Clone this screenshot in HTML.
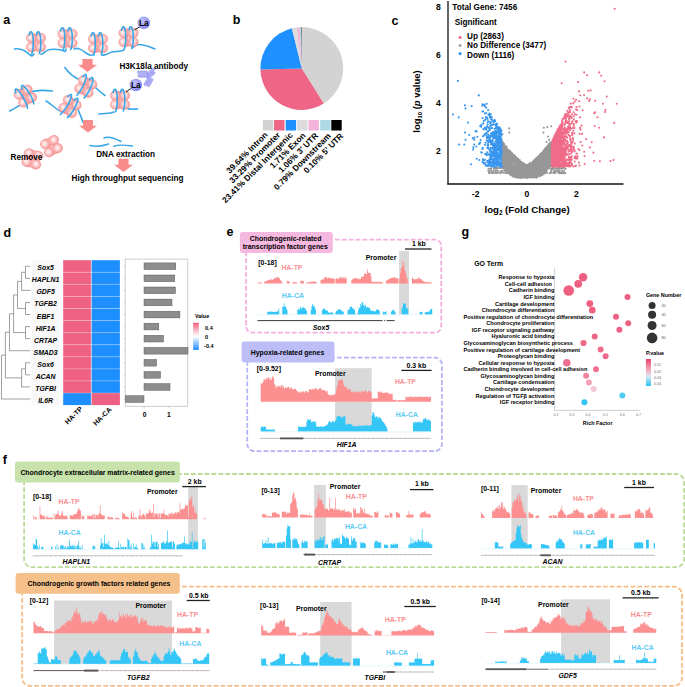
<!DOCTYPE html>
<html><head><meta charset="utf-8"><style>
html,body{margin:0;padding:0;background:#fff;}
svg{display:block;font-family:"Liberation Sans", sans-serif;}
</style></head><body>
<svg width="685" height="687" viewBox="0 0 685 687">
<rect width="685" height="687" fill="#fff"/>
<defs>
<radialGradient id="sph" cx="0.45" cy="0.45" r="0.6">
<stop offset="0" stop-color="#fff8f8"/><stop offset="0.4" stop-color="#fcd2d2"/><stop offset="0.8" stop-color="#f8a6a6"/><stop offset="1" stop-color="#f48888"/>
</radialGradient>
<radialGradient id="la" cx="0.4" cy="0.35" r="0.7">
<stop offset="0" stop-color="#c4c4fb"/><stop offset="1" stop-color="#7f7ff0"/>
</radialGradient>
<linearGradient id="hmleg" x1="0" y1="0" x2="0" y2="1">
<stop offset="0" stop-color="#ee5f80"/><stop offset="0.5" stop-color="#ffffff"/><stop offset="1" stop-color="#1e8cff"/>
</linearGradient>
<linearGradient id="pleg" x1="0" y1="0" x2="0" y2="1">
<stop offset="0" stop-color="#e9446a"/><stop offset="0.45" stop-color="#f4b6c4"/><stop offset="0.65" stop-color="#d6e6f2"/><stop offset="1" stop-color="#27c4f7"/>
</linearGradient>
</defs>
<text x="3.2" y="23.8" font-size="12.5" font-weight="bold" fill="#000">a</text>
<path d="M14.5 49 C20 48 26 51 30 55 C32 56.5 33 56 34 54" fill="none" stroke="#39a7e8" stroke-width="1.6" stroke-linecap="round"/>
<path d="M41 54 C43 55.5 45 50 50 49.5 C56 49 62 50 64 51 C65 52 66 51 66 49" fill="none" stroke="#39a7e8" stroke-width="1.6" stroke-linecap="round"/>
<path d="M74 49 C78 47 82 50 86 53 C90 56 92 56 94 54" fill="none" stroke="#39a7e8" stroke-width="1.6" stroke-linecap="round"/>
<path d="M102 55 C106 56 108 53 112 52 C116 51 120 52 124 50" fill="none" stroke="#39a7e8" stroke-width="1.6" stroke-linecap="round"/>
<path d="M132 48 C134 47 136 44 140 44.5 C146 45 151 47 155 49" fill="none" stroke="#39a7e8" stroke-width="1.6" stroke-linecap="round"/>
<g transform="translate(36,42.5) rotate(0)">
<circle cx="-2.6" cy="-4.5" r="4.465" fill="url(#sph)" stroke="#f39393" stroke-width="0.6"/>
<circle cx="2.6" cy="-4.5" r="4.465" fill="url(#sph)" stroke="#f39393" stroke-width="0.6"/>
<circle cx="-2.6" cy="4.5" r="4.465" fill="url(#sph)" stroke="#f39393" stroke-width="0.6"/>
<circle cx="2.6" cy="4.5" r="4.465" fill="url(#sph)" stroke="#f39393" stroke-width="0.6"/>
<circle cx="-5.0" cy="-4.5" r="4.7" fill="url(#sph)" stroke="#f39393" stroke-width="0.6"/>
<circle cx="5.0" cy="-4.5" r="4.7" fill="url(#sph)" stroke="#f39393" stroke-width="0.6"/>
<circle cx="-5.0" cy="4.5" r="4.7" fill="url(#sph)" stroke="#f39393" stroke-width="0.6"/>
<circle cx="5.0" cy="4.5" r="4.7" fill="url(#sph)" stroke="#f39393" stroke-width="0.6"/>
</g>
<g transform="translate(36,42.5) rotate(0)" fill="none" stroke="#39a7e8" stroke-width="1.6" stroke-linecap="round">
<path d="M-6.9 -7.6 Q-5.8 -12.2 -4.1 -10.2 C-2.3 -6 -2.2 6 -4.3 11.6"/>
<path d="M0.4 -7.6 Q1.5 -12.2 3.2 -10.2 C5.3 -6 5.4 6 3.3 11"/>
</g>
<g transform="translate(67.5,38.5) rotate(0)">
<circle cx="-2.6" cy="-4.5" r="4.465" fill="url(#sph)" stroke="#f39393" stroke-width="0.6"/>
<circle cx="2.6" cy="-4.5" r="4.465" fill="url(#sph)" stroke="#f39393" stroke-width="0.6"/>
<circle cx="-2.6" cy="4.5" r="4.465" fill="url(#sph)" stroke="#f39393" stroke-width="0.6"/>
<circle cx="2.6" cy="4.5" r="4.465" fill="url(#sph)" stroke="#f39393" stroke-width="0.6"/>
<circle cx="-5.0" cy="-4.5" r="4.7" fill="url(#sph)" stroke="#f39393" stroke-width="0.6"/>
<circle cx="5.0" cy="-4.5" r="4.7" fill="url(#sph)" stroke="#f39393" stroke-width="0.6"/>
<circle cx="-5.0" cy="4.5" r="4.7" fill="url(#sph)" stroke="#f39393" stroke-width="0.6"/>
<circle cx="5.0" cy="4.5" r="4.7" fill="url(#sph)" stroke="#f39393" stroke-width="0.6"/>
</g>
<g transform="translate(67.5,38.5) rotate(0)" fill="none" stroke="#39a7e8" stroke-width="1.6" stroke-linecap="round">
<path d="M-6.9 -7.6 Q-5.8 -12.2 -4.1 -10.2 C-2.3 -6 -2.2 6 -4.3 11.6"/>
<path d="M0.4 -7.6 Q1.5 -12.2 3.2 -10.2 C5.3 -6 5.4 6 3.3 11"/>
</g>
<g transform="translate(98,43.5) rotate(0)">
<circle cx="-2.6" cy="-4.5" r="4.465" fill="url(#sph)" stroke="#f39393" stroke-width="0.6"/>
<circle cx="2.6" cy="-4.5" r="4.465" fill="url(#sph)" stroke="#f39393" stroke-width="0.6"/>
<circle cx="-2.6" cy="4.5" r="4.465" fill="url(#sph)" stroke="#f39393" stroke-width="0.6"/>
<circle cx="2.6" cy="4.5" r="4.465" fill="url(#sph)" stroke="#f39393" stroke-width="0.6"/>
<circle cx="-5.0" cy="-4.5" r="4.7" fill="url(#sph)" stroke="#f39393" stroke-width="0.6"/>
<circle cx="5.0" cy="-4.5" r="4.7" fill="url(#sph)" stroke="#f39393" stroke-width="0.6"/>
<circle cx="-5.0" cy="4.5" r="4.7" fill="url(#sph)" stroke="#f39393" stroke-width="0.6"/>
<circle cx="5.0" cy="4.5" r="4.7" fill="url(#sph)" stroke="#f39393" stroke-width="0.6"/>
</g>
<g transform="translate(98,43.5) rotate(0)" fill="none" stroke="#39a7e8" stroke-width="1.6" stroke-linecap="round">
<path d="M-6.9 -7.6 Q-5.8 -12.2 -4.1 -10.2 C-2.3 -6 -2.2 6 -4.3 11.6"/>
<path d="M0.4 -7.6 Q1.5 -12.2 3.2 -10.2 C5.3 -6 5.4 6 3.3 11"/>
</g>
<g transform="translate(128.5,37.5) rotate(0)">
<circle cx="-2.6" cy="-4.5" r="4.465" fill="url(#sph)" stroke="#f39393" stroke-width="0.6"/>
<circle cx="2.6" cy="-4.5" r="4.465" fill="url(#sph)" stroke="#f39393" stroke-width="0.6"/>
<circle cx="-2.6" cy="4.5" r="4.465" fill="url(#sph)" stroke="#f39393" stroke-width="0.6"/>
<circle cx="2.6" cy="4.5" r="4.465" fill="url(#sph)" stroke="#f39393" stroke-width="0.6"/>
<circle cx="-5.0" cy="-4.5" r="4.7" fill="url(#sph)" stroke="#f39393" stroke-width="0.6"/>
<circle cx="5.0" cy="-4.5" r="4.7" fill="url(#sph)" stroke="#f39393" stroke-width="0.6"/>
<circle cx="-5.0" cy="4.5" r="4.7" fill="url(#sph)" stroke="#f39393" stroke-width="0.6"/>
<circle cx="5.0" cy="4.5" r="4.7" fill="url(#sph)" stroke="#f39393" stroke-width="0.6"/>
</g>
<g transform="translate(128.5,37.5) rotate(0)" fill="none" stroke="#39a7e8" stroke-width="1.6" stroke-linecap="round">
<path d="M-6.9 -7.6 Q-5.8 -12.2 -4.1 -10.2 C-2.3 -6 -2.2 6 -4.3 11.6"/>
<path d="M0.4 -7.6 Q1.5 -12.2 3.2 -10.2 C5.3 -6 5.4 6 3.3 11"/>
</g>
<line x1="134.5" y1="30.0" x2="140.0" y2="26.5" stroke="#111" stroke-width="1.0"/>
<circle cx="143.8" cy="22.8" r="6.2" fill="url(#la)"/>
<text x="143.8" y="25.8" font-size="8.4" font-weight="bold" text-anchor="middle" fill="#000">La</text>
<path d="M82.4 59.0H92.6V64.8H97.0L87.5 72.0L78.0 64.8H82.4Z" fill="#f98b8b"/>
<text x="119.4" y="69.0" font-size="8.2" font-weight="bold" fill="#000">H3K18la antibody</text>
<g fill="#a9a9f6" fill-opacity="0.9" stroke="#7f7fe6" stroke-width="0.5"><rect x="137.5" y="71" width="10" height="2.6" rx="1.2"/><rect x="138" y="74.6" width="10" height="2.6" rx="1.2"/><rect x="146" y="71" width="9.5" height="2.6" rx="1.2" transform="rotate(-40 150 72)"/><rect x="146.5" y="74.8" width="9.5" height="2.6" rx="1.2" transform="rotate(-40 150 76)"/><rect x="142" y="80" width="9" height="2.6" rx="1.2" transform="rotate(-60 147 81)"/><rect x="145" y="81" width="9" height="2.6" rx="1.2" transform="rotate(-60 150 82)"/></g>
<path d="M9.6 111 C14 109 18 106 22 104" fill="none" stroke="#39a7e8" stroke-width="1.6" stroke-linecap="round"/>
<path d="M30 92 C36 90 44 90 52.5 91" fill="none" stroke="#39a7e8" stroke-width="1.6" stroke-linecap="round"/>
<g transform="translate(25.4,96) rotate(-30)">
<circle cx="-2.6" cy="-4.5" r="4.465" fill="url(#sph)" stroke="#f39393" stroke-width="0.6"/>
<circle cx="2.6" cy="-4.5" r="4.465" fill="url(#sph)" stroke="#f39393" stroke-width="0.6"/>
<circle cx="-2.6" cy="4.5" r="4.465" fill="url(#sph)" stroke="#f39393" stroke-width="0.6"/>
<circle cx="2.6" cy="4.5" r="4.465" fill="url(#sph)" stroke="#f39393" stroke-width="0.6"/>
<circle cx="-5.0" cy="-4.5" r="4.7" fill="url(#sph)" stroke="#f39393" stroke-width="0.6"/>
<circle cx="5.0" cy="-4.5" r="4.7" fill="url(#sph)" stroke="#f39393" stroke-width="0.6"/>
<circle cx="-5.0" cy="4.5" r="4.7" fill="url(#sph)" stroke="#f39393" stroke-width="0.6"/>
<circle cx="5.0" cy="4.5" r="4.7" fill="url(#sph)" stroke="#f39393" stroke-width="0.6"/>
</g>
<g transform="translate(25.4,96) rotate(-30)" fill="none" stroke="#39a7e8" stroke-width="1.6" stroke-linecap="round">
<path d="M-6.9 -7.6 Q-5.8 -12.2 -4.1 -10.2 C-2.3 -6 -2.2 6 -4.3 11.6"/>
<path d="M0.4 -7.6 Q1.5 -12.2 3.2 -10.2 C5.3 -6 5.4 6 3.3 11"/>
</g>
<path d="M46 101 C52 104 56 110 62 112" fill="none" stroke="#39a7e8" stroke-width="1.6" stroke-linecap="round"/>
<path d="M76 106 C80 112 81 118 83.2 122.5" fill="none" stroke="#39a7e8" stroke-width="1.6" stroke-linecap="round"/>
<g transform="translate(70,106.5) rotate(30)">
<circle cx="-2.6" cy="-4.5" r="4.465" fill="url(#sph)" stroke="#f39393" stroke-width="0.6"/>
<circle cx="2.6" cy="-4.5" r="4.465" fill="url(#sph)" stroke="#f39393" stroke-width="0.6"/>
<circle cx="-2.6" cy="4.5" r="4.465" fill="url(#sph)" stroke="#f39393" stroke-width="0.6"/>
<circle cx="2.6" cy="4.5" r="4.465" fill="url(#sph)" stroke="#f39393" stroke-width="0.6"/>
<circle cx="-5.0" cy="-4.5" r="4.7" fill="url(#sph)" stroke="#f39393" stroke-width="0.6"/>
<circle cx="5.0" cy="-4.5" r="4.7" fill="url(#sph)" stroke="#f39393" stroke-width="0.6"/>
<circle cx="-5.0" cy="4.5" r="4.7" fill="url(#sph)" stroke="#f39393" stroke-width="0.6"/>
<circle cx="5.0" cy="4.5" r="4.7" fill="url(#sph)" stroke="#f39393" stroke-width="0.6"/>
</g>
<g transform="translate(70,106.5) rotate(30)" fill="none" stroke="#39a7e8" stroke-width="1.6" stroke-linecap="round">
<path d="M-6.9 -7.6 Q-5.8 -12.2 -4.1 -10.2 C-2.3 -6 -2.2 6 -4.3 11.6"/>
<path d="M0.4 -7.6 Q1.5 -12.2 3.2 -10.2 C5.3 -6 5.4 6 3.3 11"/>
</g>
<path d="M64.8 67.5 C68 72 72 76 78 79" fill="none" stroke="#39a7e8" stroke-width="1.6" stroke-linecap="round"/>
<path d="M93 85 C96 88 100 92 105 95.5" fill="none" stroke="#39a7e8" stroke-width="1.6" stroke-linecap="round"/>
<g transform="translate(85.8,86.5) rotate(25)">
<circle cx="-2.6" cy="-4.5" r="4.465" fill="url(#sph)" stroke="#f39393" stroke-width="0.6"/>
<circle cx="2.6" cy="-4.5" r="4.465" fill="url(#sph)" stroke="#f39393" stroke-width="0.6"/>
<circle cx="-2.6" cy="4.5" r="4.465" fill="url(#sph)" stroke="#f39393" stroke-width="0.6"/>
<circle cx="2.6" cy="4.5" r="4.465" fill="url(#sph)" stroke="#f39393" stroke-width="0.6"/>
<circle cx="-5.0" cy="-4.5" r="4.7" fill="url(#sph)" stroke="#f39393" stroke-width="0.6"/>
<circle cx="5.0" cy="-4.5" r="4.7" fill="url(#sph)" stroke="#f39393" stroke-width="0.6"/>
<circle cx="-5.0" cy="4.5" r="4.7" fill="url(#sph)" stroke="#f39393" stroke-width="0.6"/>
<circle cx="5.0" cy="4.5" r="4.7" fill="url(#sph)" stroke="#f39393" stroke-width="0.6"/>
</g>
<g transform="translate(85.8,86.5) rotate(25)" fill="none" stroke="#39a7e8" stroke-width="1.6" stroke-linecap="round">
<path d="M-6.9 -7.6 Q-5.8 -12.2 -4.1 -10.2 C-2.3 -6 -2.2 6 -4.3 11.6"/>
<path d="M0.4 -7.6 Q1.5 -12.2 3.2 -10.2 C5.3 -6 5.4 6 3.3 11"/>
</g>
<path d="M99 114 C104 113 110 114 114 112" fill="none" stroke="#39a7e8" stroke-width="1.6" stroke-linecap="round"/>
<path d="M126 108 C130 110 134 109 137.7 109" fill="none" stroke="#39a7e8" stroke-width="1.6" stroke-linecap="round"/>
<g transform="translate(120,100) rotate(0)">
<circle cx="-2.6" cy="-4.5" r="4.465" fill="url(#sph)" stroke="#f39393" stroke-width="0.6"/>
<circle cx="2.6" cy="-4.5" r="4.465" fill="url(#sph)" stroke="#f39393" stroke-width="0.6"/>
<circle cx="-2.6" cy="4.5" r="4.465" fill="url(#sph)" stroke="#f39393" stroke-width="0.6"/>
<circle cx="2.6" cy="4.5" r="4.465" fill="url(#sph)" stroke="#f39393" stroke-width="0.6"/>
<circle cx="-5.0" cy="-4.5" r="4.7" fill="url(#sph)" stroke="#f39393" stroke-width="0.6"/>
<circle cx="5.0" cy="-4.5" r="4.7" fill="url(#sph)" stroke="#f39393" stroke-width="0.6"/>
<circle cx="-5.0" cy="4.5" r="4.7" fill="url(#sph)" stroke="#f39393" stroke-width="0.6"/>
<circle cx="5.0" cy="4.5" r="4.7" fill="url(#sph)" stroke="#f39393" stroke-width="0.6"/>
</g>
<g transform="translate(120,100) rotate(0)" fill="none" stroke="#39a7e8" stroke-width="1.6" stroke-linecap="round">
<path d="M-6.9 -7.6 Q-5.8 -12.2 -4.1 -10.2 C-2.3 -6 -2.2 6 -4.3 11.6"/>
<path d="M0.4 -7.6 Q1.5 -12.2 3.2 -10.2 C5.3 -6 5.4 6 3.3 11"/>
</g>
<line x1="126.0" y1="92.0" x2="131.0" y2="88.5" stroke="#111" stroke-width="1.0"/>
<circle cx="135.8" cy="85" r="6.2" fill="url(#la)"/>
<text x="135.8" y="88.0" font-size="8.4" font-weight="bold" text-anchor="middle" fill="#000">La</text>
<path d="M83.1 120.0H92.9V125.7H97.0L88.0 132.6L79.0 125.7H83.1Z" fill="#f98b8b"/>
<g transform="translate(51.5,146.1) rotate(-25)">
<circle cx="-2.6" cy="-4.5" r="4.369999999999999" fill="url(#sph)" stroke="#f39393" stroke-width="0.6"/>
<circle cx="2.6" cy="-4.5" r="4.369999999999999" fill="url(#sph)" stroke="#f39393" stroke-width="0.6"/>
<circle cx="-2.6" cy="4.5" r="4.369999999999999" fill="url(#sph)" stroke="#f39393" stroke-width="0.6"/>
<circle cx="2.6" cy="4.5" r="4.369999999999999" fill="url(#sph)" stroke="#f39393" stroke-width="0.6"/>
<circle cx="-5.0" cy="-4.5" r="4.6" fill="url(#sph)" stroke="#f39393" stroke-width="0.6"/>
<circle cx="5.0" cy="-4.5" r="4.6" fill="url(#sph)" stroke="#f39393" stroke-width="0.6"/>
<circle cx="-5.0" cy="4.5" r="4.6" fill="url(#sph)" stroke="#f39393" stroke-width="0.6"/>
<circle cx="5.0" cy="4.5" r="4.6" fill="url(#sph)" stroke="#f39393" stroke-width="0.6"/>
</g>
<g transform="translate(32.5,158.9) rotate(15)">
<circle cx="-2.6" cy="-4.5" r="4.369999999999999" fill="url(#sph)" stroke="#f39393" stroke-width="0.6"/>
<circle cx="2.6" cy="-4.5" r="4.369999999999999" fill="url(#sph)" stroke="#f39393" stroke-width="0.6"/>
<circle cx="-2.6" cy="4.5" r="4.369999999999999" fill="url(#sph)" stroke="#f39393" stroke-width="0.6"/>
<circle cx="2.6" cy="4.5" r="4.369999999999999" fill="url(#sph)" stroke="#f39393" stroke-width="0.6"/>
<circle cx="-5.0" cy="-4.5" r="4.6" fill="url(#sph)" stroke="#f39393" stroke-width="0.6"/>
<circle cx="5.0" cy="-4.5" r="4.6" fill="url(#sph)" stroke="#f39393" stroke-width="0.6"/>
<circle cx="-5.0" cy="4.5" r="4.6" fill="url(#sph)" stroke="#f39393" stroke-width="0.6"/>
<circle cx="5.0" cy="4.5" r="4.6" fill="url(#sph)" stroke="#f39393" stroke-width="0.6"/>
</g>
<text x="10.5" y="159.7" font-size="8.2" font-weight="bold" fill="#000">Remove</text>
<path d="M90 145.5 C95 146.5 100 147 108.5 144" fill="none" stroke="#39a7e8" stroke-width="1.5" stroke-linecap="round"/>
<path d="M104 138 C108 136 114 138 121 141.5" fill="none" stroke="#39a7e8" stroke-width="1.5" stroke-linecap="round"/>
<path d="M114 146.5 C118 144 124 145 132.5 146" fill="none" stroke="#39a7e8" stroke-width="1.5" stroke-linecap="round"/>
<text x="96.2" y="156.8" font-size="8.2" font-weight="bold" fill="#000">DNA extraction</text>
<path d="M118.4 158.8H128.6V164.7H133.0L123.5 172.0L114.0 164.7H118.4Z" fill="#f98b8b"/>
<text x="71.6" y="181.0" font-size="8.2" font-weight="bold" fill="#000">High throughput sequencing</text>
<text x="232.8" y="24.2" font-size="12.5" font-weight="bold" fill="#000">b</text>
<path d="M301.8 68.5L301.80 27.10A41.4 41.4 0 0 1 323.74 103.61Z" fill="#d3d3d3"/>
<path d="M301.8 68.5L323.74 103.61A41.4 41.4 0 0 1 260.41 69.58Z" fill="#ef6585"/>
<path d="M301.8 68.5L260.41 69.58A41.4 41.4 0 0 1 291.92 28.30Z" fill="#1e90ff"/>
<path d="M301.8 68.5L291.92 28.30A41.4 41.4 0 0 1 296.61 27.43Z" fill="#dcdcdc"/>
<path d="M301.8 68.5L296.61 27.43A41.4 41.4 0 0 1 299.63 27.16Z" fill="#f2b4d8"/>
<path d="M301.8 68.5L299.63 27.16A41.4 41.4 0 0 1 300.93 27.11Z" fill="#add8e6"/>
<path d="M301.8 68.5L300.93 27.11A41.4 41.4 0 0 1 301.58 27.10Z" fill="#111"/>
<path d="M301.8 68.5L301.58 27.10A41.4 41.4 0 0 1 301.80 27.10Z" fill="#d3d3d3"/>
<rect x="262.9" y="120.0" width="10.4" height="10.5" fill="#d3d3d3"/>
<text x="268.2" y="135.4" font-size="8.4" font-weight="bold" text-anchor="end" fill="#000" transform="rotate(-45 268.2 135.4)">39.64% Intron</text>
<rect x="274.1" y="120.0" width="10.4" height="10.5" fill="#ef6585"/>
<text x="280.8" y="135.6" font-size="8.4" font-weight="bold" text-anchor="end" fill="#000" transform="rotate(-45 280.8 135.6)">33.29% Promoter</text>
<rect x="285.7" y="120.0" width="10.4" height="10.5" fill="#1e90ff"/>
<text x="293.4" y="135.8" font-size="8.4" font-weight="bold" text-anchor="end" fill="#000" transform="rotate(-45 293.4 135.8)">23.41% Distal Intergenic</text>
<rect x="297.1" y="120.0" width="10.4" height="10.5" fill="#dcdcdc"/>
<text x="306.1" y="136.1" font-size="8.4" font-weight="bold" text-anchor="end" fill="#000" transform="rotate(-45 306.1 136.1)">1.71% Exon</text>
<rect x="308.5" y="120.0" width="10.4" height="10.5" fill="#f2b4d8"/>
<text x="318.7" y="136.3" font-size="8.4" font-weight="bold" text-anchor="end" fill="#000" transform="rotate(-45 318.7 136.3)">1.06% 3' UTR</text>
<rect x="320.2" y="120.0" width="10.4" height="10.5" fill="#add8e6"/>
<text x="331.3" y="136.5" font-size="8.4" font-weight="bold" text-anchor="end" fill="#000" transform="rotate(-45 331.3 136.5)">0.79% Downstream</text>
<rect x="331.3" y="120.0" width="10.4" height="10.5" fill="#000"/>
<text x="343.9" y="136.7" font-size="8.4" font-weight="bold" text-anchor="end" fill="#000" transform="rotate(-45 343.9 136.7)">0.10% 5' UTR</text>
<text x="391.5" y="24.5" font-size="12.5" font-weight="bold" fill="#000">c</text>
<path d="M515.8 173.6h0M536.3 175.2h0M529.7 173.3h0M504.0 157.6h0M503.2 158.6h0M504.5 167.3h0M521.2 164.7h0M506.8 166.6h0M535.1 160.1h0M532.3 172.0h0M550.7 166.3h0M545.9 165.9h0M507.7 169.3h0M515.1 160.2h0M509.2 160.6h0M535.7 170.9h0M530.5 176.8h0M504.1 164.7h0M537.8 168.8h0M515.4 165.4h0M522.9 174.0h0M543.1 158.7h0M512.1 163.2h0M529.0 165.8h0M540.1 170.0h0M550.9 165.0h0M520.8 165.8h0M508.0 161.8h0M503.3 152.5h0M541.7 162.9h0M546.6 164.8h0M538.5 164.9h0M532.5 171.0h0M545.1 150.2h0M524.4 169.2h0M504.2 152.5h0M536.1 158.2h0M544.3 167.2h0M519.0 166.3h0M502.6 157.3h0M508.7 170.0h0M504.1 150.5h0M519.3 162.5h0M505.0 160.0h0M530.6 164.7h0M544.2 153.4h0M513.7 167.8h0M517.6 160.8h0M550.0 165.2h0M509.0 168.2h0M511.6 164.8h0M533.0 173.8h0M501.9 157.6h0M518.2 167.7h0M549.8 152.2h0M528.3 170.2h0M537.6 174.9h0M547.6 152.1h0M546.5 152.7h0M519.4 171.3h0M505.9 156.2h0M510.5 170.4h0M516.7 175.2h0M501.7 163.6h0M505.8 162.8h0M502.7 145.9h0M534.4 174.9h0M512.4 168.3h0M517.9 174.8h0M545.4 148.4h0M523.8 171.7h0M505.2 167.6h0M516.8 172.3h0M544.6 169.3h0M502.6 143.4h0M529.2 176.2h0M530.2 177.1h0M529.2 164.0h0M546.1 155.9h0M508.6 155.2h0M529.5 167.1h0M516.1 172.6h0M543.8 150.5h0M545.6 153.5h0M544.1 156.7h0M511.3 163.8h0M517.4 175.7h0M502.8 162.0h0M512.8 161.1h0M549.9 158.5h0M549.1 144.2h0M549.9 160.6h0M511.0 169.6h0M509.9 169.3h0M534.9 161.3h0M545.1 162.3h0M536.4 162.2h0M505.2 154.7h0M548.0 151.6h0M541.1 165.5h0M509.1 155.3h0M516.3 161.5h0M550.6 159.2h0M519.9 161.4h0M539.9 172.1h0M506.9 168.1h0M547.8 151.1h0M507.7 152.9h0M550.9 151.9h0M517.2 167.4h0M507.1 170.3h0M550.5 152.5h0M529.1 164.8h0M521.7 164.3h0M544.5 168.5h0M512.4 169.3h0M511.9 162.8h0M512.8 167.1h0M507.1 149.8h0M517.4 169.2h0M532.7 162.9h0M521.0 162.8h0M527.0 171.7h0M528.9 177.4h0M522.1 175.3h0M501.9 147.1h0M508.9 162.9h0M539.9 164.7h0M516.0 167.2h0M531.0 166.2h0M506.0 158.2h0M542.1 164.1h0M531.4 166.4h0M548.1 160.4h0M534.3 169.3h0M528.0 169.1h0M522.9 170.6h0M524.6 164.8h0M538.7 158.5h0M549.4 163.5h0M531.3 163.2h0M545.1 169.4h0M506.7 161.7h0M504.6 164.5h0M504.7 153.9h0M542.6 154.2h0M508.1 156.2h0M536.8 174.1h0M546.9 147.5h0M511.0 152.9h0M519.7 169.9h0M551.3 146.4h0M508.4 163.4h0M528.3 174.0h0M509.9 167.1h0M539.8 174.2h0M530.9 171.9h0M502.4 160.4h0M534.9 168.9h0M504.3 144.4h0M542.8 152.0h0M506.0 165.1h0M503.3 149.3h0M513.3 172.6h0M521.1 163.0h0M507.9 150.4h0M531.9 167.2h0M505.3 168.4h0M538.1 168.6h0M504.6 146.2h0M535.4 162.9h0M505.1 149.1h0M504.4 148.2h0M523.0 173.5h0M530.9 163.8h0M529.1 175.1h0M506.2 167.3h0M503.7 164.5h0M515.3 170.8h0M541.5 169.1h0M526.7 176.1h0M517.0 175.7h0M512.4 173.6h0M540.3 164.5h0M509.6 163.5h0M549.0 166.8h0M544.1 164.1h0M526.1 167.2h0M519.4 169.5h0M538.1 156.5h0M539.0 163.6h0M520.1 172.4h0M503.9 166.0h0M504.6 151.8h0M512.6 171.7h0M505.1 149.6h0M546.4 156.3h0M513.8 171.1h0M514.4 167.3h0M513.0 154.7h0M550.6 155.3h0M512.1 153.7h0M515.1 169.8h0M501.7 158.5h0M501.9 161.4h0M505.4 161.5h0M503.4 167.3h0M514.9 171.8h0M532.8 169.7h0M541.1 161.5h0M539.5 157.7h0M519.2 172.4h0M551.1 164.2h0M539.9 162.8h0M503.5 147.9h0M547.3 156.5h0M540.3 158.5h0M507.4 160.4h0M527.3 167.2h0M543.5 155.1h0M537.9 163.3h0M511.4 172.9h0M507.2 164.0h0M506.0 150.7h0M531.2 168.8h0M535.0 165.6h0M525.5 177.5h0M543.2 157.4h0M527.1 171.6h0M540.4 170.4h0M540.1 171.4h0M540.6 154.2h0M526.0 173.6h0M524.7 169.0h0M541.8 161.8h0M535.9 175.3h0M507.8 166.8h0M540.7 169.3h0M531.8 177.0h0M504.2 163.4h0M537.5 171.4h0M528.3 172.3h0M523.8 176.4h0M547.3 166.5h0M550.8 143.8h0M522.7 174.4h0M510.6 161.8h0M549.8 165.7h0M544.2 162.3h0M547.1 154.7h0M511.5 154.8h0M525.3 177.4h0M501.8 155.7h0M507.5 164.7h0M515.5 160.0h0M501.8 148.4h0M545.0 169.7h0M548.7 152.7h0M547.7 164.4h0M518.3 170.9h0M551.7 153.0h0M517.7 169.9h0M513.5 173.9h0M514.0 156.4h0M512.3 169.8h0M527.9 175.9h0M518.4 160.0h0M547.0 151.9h0M535.3 160.7h0M549.3 156.6h0M540.2 166.7h0M514.0 174.1h0M548.7 166.7h0M524.2 173.8h0M514.6 161.5h0M550.7 162.2h0M536.5 171.7h0M531.1 172.5h0M508.7 169.2h0M510.4 153.5h0M547.9 145.5h0M522.7 176.0h0M509.8 171.1h0M511.8 169.6h0M531.9 163.8h0M541.0 166.9h0M520.6 169.7h0M518.6 171.9h0M527.2 170.3h0M546.0 167.2h0M513.3 170.7h0M519.8 170.7h0M549.8 147.6h0M546.5 170.1h0M503.0 151.0h0M547.4 160.3h0M532.9 176.8h0M519.3 161.4h0M528.8 169.0h0M549.3 151.8h0M536.1 163.1h0M523.2 170.5h0M511.5 154.3h0M536.0 171.9h0M507.0 166.2h0M535.5 164.9h0M506.3 169.0h0M528.9 170.5h0M519.2 173.9h0M533.7 176.6h0M514.8 167.6h0M550.0 153.2h0M546.9 160.7h0M550.1 151.5h0M515.0 174.9h0M526.4 169.7h0M520.9 174.0h0M537.1 158.8h0M511.3 172.8h0M516.6 169.4h0M537.9 172.7h0M550.5 161.3h0M511.0 157.9h0M526.2 175.9h0M511.1 165.9h0M537.0 158.4h0M510.7 152.0h0M504.1 160.5h0M547.5 149.2h0M540.3 154.0h0M548.9 162.4h0M509.4 151.7h0M540.9 173.5h0M537.0 170.1h0M508.7 171.6h0M513.7 169.0h0M550.3 163.8h0M517.5 162.1h0M518.3 160.7h0M509.8 166.0h0M547.5 169.3h0M520.4 164.5h0M541.8 172.9h0M503.1 166.5h0M548.4 164.4h0M540.9 155.8h0M516.6 172.1h0M550.0 154.0h0M515.5 171.4h0M548.3 155.3h0M549.4 167.8h0M550.0 144.3h0M519.1 173.5h0M521.5 170.7h0M548.8 165.6h0M544.3 155.7h0M534.0 172.4h0M515.6 170.0h0M542.5 172.0h0M510.0 157.0h0M503.1 155.4h0M515.9 157.2h0M546.9 146.9h0M513.0 173.2h0M505.6 159.4h0M539.2 167.5h0M511.6 166.3h0M541.0 157.0h0M545.1 166.4h0M531.7 172.6h0M540.5 171.3h0M508.0 151.6h0M532.4 173.1h0M519.6 160.2h0M543.7 159.3h0M551.3 164.9h0M524.4 166.7h0M545.1 151.1h0M503.3 162.1h0M506.6 167.1h0M550.6 154.3h0M548.9 161.4h0M546.2 162.0h0M512.8 159.1h0M533.4 167.8h0M510.9 166.8h0M507.5 167.6h0M512.6 163.0h0M536.3 173.4h0M537.7 173.0h0M515.3 172.5h0M543.1 162.3h0M504.3 166.8h0M508.5 157.1h0M520.3 173.5h0M515.1 157.0h0M546.1 147.6h0M517.9 173.8h0M501.9 144.1h0M520.1 162.9h0M523.4 175.9h0M502.3 154.6h0M535.8 160.3h0M505.3 155.9h0M518.2 168.9h0M507.7 166.2h0M528.7 165.1h0M506.2 160.1h0M543.5 151.3h0M548.7 161.2h0M547.8 156.2h0M542.7 169.5h0M520.0 163.5h0M528.4 173.4h0M539.9 156.8h0M503.4 155.5h0M533.6 168.9h0M535.1 172.3h0M520.9 168.9h0M521.3 167.8h0M522.5 171.9h0M502.6 153.2h0M525.6 175.4h0M541.7 158.0h0M507.0 162.3h0M505.4 160.6h0M527.8 177.3h0M540.3 159.3h0M527.9 177.2h0M527.2 173.7h0M509.8 150.8h0M525.8 165.2h0M542.8 153.1h0M504.4 161.7h0M541.3 171.5h0M547.5 164.9h0M544.0 170.0h0M527.0 166.0h0M510.5 168.6h0M527.4 174.4h0M508.4 150.5h0M506.4 159.3h0M546.5 159.2h0M506.0 146.2h0M535.2 170.8h0M543.2 168.4h0M517.7 163.4h0M535.7 158.8h0M532.8 167.3h0M503.1 164.9h0M534.5 170.5h0M528.0 166.0h0M536.4 175.6h0M501.8 159.2h0M506.1 163.1h0M511.2 162.2h0M533.0 174.6h0M507.3 149.3h0M512.0 171.6h0M546.4 153.3h0M502.2 151.9h0M531.4 173.1h0M536.0 169.5h0M512.3 155.5h0M503.5 156.4h0M520.1 174.1h0M504.1 150.2h0M502.2 154.5h0M510.1 160.7h0M503.7 146.5h0M542.6 158.8h0M502.0 145.8h0M511.2 171.9h0M516.4 162.8h0M538.5 159.4h0M539.3 170.9h0M542.8 163.2h0M513.0 162.5h0M550.3 163.6h0M512.8 170.6h0M540.8 154.8h0M540.9 168.7h0M546.8 164.3h0M535.2 165.2h0M537.0 157.7h0M524.0 166.2h0M521.9 167.0h0M510.6 160.9h0M504.9 147.3h0M507.7 170.6h0M506.1 148.1h0M516.9 174.2h0M502.9 166.6h0M538.4 164.2h0M538.6 161.8h0M504.4 155.7h0M544.2 152.7h0M548.2 146.7h0M506.1 166.4h0M545.4 153.5h0M505.8 168.2h0M541.4 170.7h0M515.6 168.8h0M502.5 162.2h0M550.2 156.8h0M545.6 158.4h0M502.9 158.9h0M521.9 166.1h0M517.0 164.1h0M529.9 175.2h0M546.0 169.5h0M501.8 162.6h0M541.6 153.1h0M512.8 155.0h0M513.9 171.6h0M538.7 166.8h0M506.2 156.4h0M505.0 151.0h0M538.6 160.6h0M535.1 171.5h0M519.9 171.6h0M547.2 168.7h0M547.1 169.6h0M510.4 168.5h0M547.7 159.4h0M518.7 161.7h0M508.1 152.8h0M536.9 163.0h0M508.8 163.6h0M542.1 162.4h0M547.0 166.0h0M538.9 159.1h0M550.7 150.1h0M505.9 146.9h0M551.1 147.8h0M509.9 159.9h0M519.2 176.2h0M507.6 158.5h0M520.1 165.6h0M532.1 166.2h0M539.8 157.4h0M545.6 156.8h0M515.3 164.5h0M505.7 161.4h0M535.2 173.1h0M521.1 171.1h0M537.5 158.3h0M509.3 158.9h0M542.3 166.5h0M549.3 157.3h0M505.8 157.6h0M530.1 167.9h0M544.6 161.7h0M510.5 159.3h0M519.4 164.7h0M506.7 147.3h0M513.5 167.9h0M502.2 158.0h0M521.0 166.9h0M517.3 172.5h0M511.2 158.5h0M510.9 156.7h0M507.0 153.5h0M543.7 159.7h0M524.0 170.6h0M517.3 165.7h0M544.1 154.7h0M530.6 176.2h0M544.8 165.3h0M545.5 166.6h0M518.5 173.2h0M521.3 175.1h0M501.8 149.3h0M521.4 168.2h0M536.7 170.6h0M548.8 148.6h0M535.4 176.1h0M502.2 142.8h0M536.5 172.5h0M511.6 158.0h0M534.1 164.3h0M542.8 155.5h0M510.0 158.6h0M531.0 174.4h0M523.9 176.1h0M525.7 172.0h0M530.0 165.5h0M537.0 160.8h0M550.1 166.4h0M535.6 166.1h0M527.8 172.2h0M516.6 160.5h0M510.6 165.1h0M544.5 166.9h0M527.2 175.0h0M527.5 164.9h0M516.2 171.1h0M514.7 164.9h0M548.5 155.8h0M534.5 167.0h0M537.1 168.6h0M541.6 172.2h0M509.3 171.6h0M531.4 174.3h0M514.8 168.4h0M515.6 168.7h0M503.3 165.7h0M543.8 161.1h0M502.3 158.9h0M533.2 161.9h0M550.9 156.8h0M520.5 175.9h0M536.0 173.4h0M508.0 170.9h0M501.9 150.5h0M507.0 170.2h0M539.6 171.1h0M503.7 150.0h0M539.4 158.4h0M540.1 173.3h0M523.4 164.3h0M512.5 154.2h0M539.5 174.4h0M544.1 171.0h0M515.2 162.3h0M507.7 153.6h0M535.2 170.4h0M519.0 164.0h0M549.5 149.9h0M516.3 165.6h0M550.8 147.0h0M533.7 172.9h0M521.4 163.7h0M518.5 165.6h0M533.7 162.3h0M543.6 167.7h0M510.1 157.2h0M548.9 164.5h0M523.7 175.4h0M542.9 164.5h0M542.1 169.7h0M524.5 170.4h0M509.2 157.7h0M519.9 169.5h0M551.6 158.7h0M542.8 170.7h0M503.1 142.7h0M546.2 161.1h0M542.4 165.7h0M510.1 169.9h0M548.0 168.4h0M533.5 171.5h0M512.7 163.9h0M537.2 169.7h0M550.3 142.7h0M511.1 172.6h0M547.7 148.4h0M544.9 170.9h0M541.3 154.4h0M537.6 171.2h0M533.1 165.4h0M506.0 163.9h0M512.7 172.4h0M524.9 176.0h0M539.5 171.9h0M503.2 144.8h0M546.2 150.5h0M507.5 162.3h0M505.7 147.7h0M545.2 158.6h0M522.9 173.5h0M544.3 163.0h0M535.1 174.7h0M539.4 165.2h0M507.7 151.6h0M508.2 166.7h0M545.0 165.6h0M508.7 162.3h0M515.6 158.6h0M506.4 147.0h0M504.0 146.7h0M524.6 174.6h0M517.9 158.8h0M551.6 143.2h0M543.6 166.5h0M509.5 164.2h0M548.1 165.5h0M532.0 175.7h0M509.2 155.9h0M534.1 169.6h0M513.4 171.5h0M534.3 165.6h0M510.2 171.8h0M540.3 167.5h0M545.1 152.4h0M509.5 154.5h0M518.0 174.3h0M501.9 155.0h0M506.7 154.8h0M515.7 163.0h0M504.2 147.6h0M549.8 157.4h0M528.1 171.5h0M509.3 170.7h0M512.4 157.7h0M502.9 165.7h0M538.7 172.4h0M538.8 173.7h0M520.1 175.4h0M533.1 163.4h0M507.8 159.5h0M519.2 170.8h0M545.1 161.2h0M542.3 167.6h0M511.9 168.2h0M521.8 162.3h0M543.5 152.8h0M544.0 154.0h0M550.0 144.8h0M529.4 176.9h0M502.5 164.6h0M550.5 149.0h0M549.1 154.5h0M543.7 153.3h0M535.8 172.6h0M530.2 164.3h0M549.7 162.6h0M506.6 157.9h0M513.2 166.4h0M529.6 176.1h0M514.4 168.4h0M505.3 157.8h0M545.1 159.1h0M531.9 168.1h0M511.0 163.8h0M518.9 167.7h0M531.1 171.1h0M514.0 155.1h0M514.5 160.7h0M546.4 162.0h0M522.1 166.9h0M506.2 166.1h0M550.1 150.6h0M508.1 165.3h0M517.3 165.0h0M534.5 162.6h0M544.2 162.1h0M540.5 159.9h0M541.5 165.3h0M548.2 167.2h0M526.4 165.3h0M532.0 171.8h0M542.6 154.8h0M534.0 171.6h0M519.3 168.5h0M526.6 172.9h0M509.4 167.0h0M532.6 176.1h0M548.5 162.9h0M531.6 170.8h0M529.9 163.1h0M538.0 169.3h0M517.6 166.7h0M537.6 167.0h0M519.9 168.7h0M532.1 163.8h0M522.1 168.8h0M551.5 159.5h0M529.3 166.6h0M528.0 176.7h0M547.4 154.8h0M544.2 149.9h0M547.1 161.9h0M509.6 169.5h0M535.2 167.0h0M517.3 158.2h0M535.5 175.8h0M515.0 162.9h0M501.9 160.4h0M545.2 159.6h0M529.4 163.5h0M534.3 163.6h0M504.2 168.1h0M542.0 168.1h0M539.4 169.1h0M508.7 167.3h0M532.6 172.7h0M522.7 172.8h0M532.6 161.9h0M515.4 158.6h0M533.7 161.0h0M526.1 165.4h0M512.0 167.1h0M515.1 158.9h0M525.1 167.5h0M512.0 171.2h0M520.0 176.2h0M506.8 151.8h0M508.2 156.5h0M522.3 165.3h0M543.5 170.1h0M517.3 164.0h0M547.6 157.3h0M534.0 174.1h0M546.4 168.6h0M513.3 159.7h0M509.1 153.6h0M515.7 164.1h0M517.7 168.6h0M546.9 150.6h0M520.5 167.3h0M538.7 171.5h0M535.1 174.2h0M506.4 149.0h0M540.3 160.9h0M508.4 168.4h0M514.8 169.2h0M503.3 161.7h0M535.6 174.0h0M544.8 155.1h0M503.6 163.5h0M506.3 152.2h0M541.0 172.8h0M540.9 157.5h0M513.8 173.5h0M549.5 159.5h0M548.9 153.2h0M521.4 170.3h0M538.8 160.0h0M550.5 153.0h0M520.5 174.7h0M515.2 173.5h0M539.0 162.9h0M530.6 166.9h0M508.7 158.1h0M533.5 170.5h0M541.8 156.6h0M506.4 164.9h0M517.7 173.6h0M522.6 176.3h0M551.4 148.7h0M505.1 153.1h0M502.8 148.9h0M544.6 156.1h0M518.1 167.9h0M518.2 162.4h0M544.2 157.5h0M547.8 147.1h0M508.2 166.2h0M538.1 173.1h0M522.3 162.8h0M542.7 165.4h0M513.9 162.7h0M550.5 145.0h0M543.8 171.5h0M537.6 165.3h0M514.5 165.2h0M516.8 160.2h0M502.8 163.9h0M547.2 158.7h0M506.3 150.3h0M525.5 171.2h0M506.3 159.7h0M533.0 176.1h0M530.7 167.6h0M551.3 149.6h0M519.4 174.7h0M550.1 155.4h0M542.2 172.5h0M539.1 168.0h0M548.3 148.7h0M537.8 160.5h0M506.7 163.4h0M533.8 175.7h0M506.3 148.5h0M509.8 164.2h0M506.2 151.9h0M509.4 161.5h0M549.6 167.7h0M527.0 166.7h0M543.3 172.1h0M545.3 164.1h0M546.5 157.8h0M504.8 162.6h0M510.8 154.2h0M508.8 165.3h0M501.9 153.5h0M523.3 163.3h0M513.4 165.8h0M551.4 165.9h0M543.1 154.3h0M514.9 161.2h0M540.6 165.2h0M515.8 156.9h0M524.9 173.6h0M502.0 145.1h0M522.9 172.0h0M548.5 156.5h0M505.0 166.0h0M504.4 158.6h0M540.3 154.8h0M548.6 165.2h0M516.0 162.4h0M536.2 170.1h0M504.0 159.9h0M503.5 153.9h0M516.4 167.9h0M533.5 173.7h0M523.6 177.3h0M551.2 165.8h0M534.4 165.2h0M516.1 174.5h0M529.9 170.0h0M531.0 168.4h0M539.3 160.6h0M542.2 168.2h0M542.1 152.6h0M551.3 162.4h0M549.3 161.2h0M507.9 168.4h0M551.0 156.1h0M515.8 158.9h0M506.1 153.7h0M504.4 154.2h0M511.2 169.3h0M514.6 155.6h0M513.9 169.5h0M525.2 166.0h0M514.6 174.6h0M537.9 174.3h0M516.6 159.3h0M511.6 157.6h0M538.2 174.8h0M521.5 176.1h0M502.5 142.0h0M506.6 160.6h0M509.2 158.0h0M507.8 155.3h0M526.8 176.7h0M546.9 154.1h0M530.3 170.5h0M520.9 161.7h0M534.0 161.4h0M512.6 162.8h0M545.2 154.5h0M538.4 170.3h0M536.0 167.5h0M511.6 161.6h0M540.8 167.8h0M529.1 170.0h0M535.2 168.1h0M513.0 156.1h0M524.3 168.3h0M528.8 172.1h0M548.7 157.6h0M523.4 169.2h0M519.6 160.1h0M538.5 167.9h0M528.7 175.2h0M518.8 176.3h0M510.1 161.7h0M535.5 161.6h0M510.2 165.1h0M543.0 160.8h0M518.3 175.9h0M539.3 170.3h0M520.2 167.4h0M543.8 166.2h0M550.5 150.8h0M516.1 174.8h0M541.3 167.4h0M547.7 152.6h0M527.9 167.1h0M537.3 162.7h0M519.9 176.4h0M541.2 163.5h0M539.2 166.7h0M516.4 167.5h0M501.9 141.4h0M545.9 159.7h0M503.8 162.3h0M543.4 169.5h0M529.5 172.8h0M513.4 159.2h0M504.0 159.4h0M546.0 169.8h0M543.3 163.3h0M537.4 164.0h0M548.1 163.2h0M543.3 151.2h0M518.7 166.6h0M511.1 163.1h0M548.6 144.7h0M525.2 166.4h0M505.3 167.0h0M513.3 156.8h0M545.3 167.6h0M514.6 174.1h0M517.3 170.7h0M508.8 150.8h0M516.2 160.6h0M508.5 161.1h0M511.9 155.9h0M532.4 174.4h0M549.3 160.1h0M551.6 147.3h0M524.8 171.8h0M550.1 156.2h0M550.4 148.7h0M538.0 162.8h0M549.3 148.8h0M536.4 161.4h0M543.9 164.7h0M517.3 161.5h0M506.7 155.6h0M503.4 148.1h0M509.4 167.7h0M511.2 154.7h0M519.5 169.6h0M551.2 163.3h0M523.0 166.2h0M522.4 163.1h0M537.9 166.1h0M547.2 153.9h0M549.8 146.4h0M530.3 172.4h0M532.2 164.7h0M546.7 167.8h0M550.4 143.6h0M549.4 164.8h0M510.3 153.3h0M522.8 165.5h0M541.4 165.5h0M517.8 160.3h0M529.3 174.5h0M504.5 157.0h0M541.2 160.9h0M506.3 164.4h0M516.7 170.1h0M513.4 158.1h0M536.2 160.6h0M507.1 155.5h0M538.9 164.2h0M537.5 157.3h0M538.7 174.2h0M501.8 152.0h0M516.2 166.4h0M502.8 156.4h0M521.2 176.5h0M528.0 170.7h0M524.6 176.4h0M523.0 168.3h0M516.7 173.4h0M549.6 145.7h0M539.8 163.2h0M551.4 160.6h0M508.1 154.5h0M524.2 163.7h0M548.1 151.1h0M502.6 144.6h0M539.2 156.4h0M550.9 157.8h0M540.2 168.0h0M518.7 176.3h0M523.6 177.1h0M525.1 169.9h0M547.9 162.1h0M523.1 169.9h0M524.1 173.0h0M511.8 152.9h0M535.4 164.1h0M511.0 160.0h0M548.9 154.6h0M506.0 152.1h0M527.1 170.5h0M533.3 164.5h0M530.4 174.2h0M518.1 172.2h0M534.0 160.4h0M548.1 149.9h0M537.8 159.9h0M522.2 167.5h0M548.9 151.1h0M544.9 149.0h0M547.0 148.7h0M516.1 162.1h0M514.1 157.2h0M539.5 155.0h0M538.1 163.2h0M540.9 159.4h0M533.5 166.3h0M502.1 163.2h0M536.7 166.3h0M512.4 167.9h0M512.3 158.1h0M511.5 165.7h0M504.6 164.8h0M540.8 163.9h0M548.6 159.5h0M536.4 167.9h0M545.8 164.2h0M532.7 162.2h0M519.9 166.6h0M544.8 168.4h0M551.7 156.5h0M511.3 153.0h0M516.8 164.8h0M508.4 153.5h0M501.7 152.5h0M547.0 169.2h0M503.8 145.9h0M506.0 169.4h0M531.9 175.2h0M504.7 151.9h0M537.4 161.4h0M550.0 149.2h0M547.6 165.6h0M504.9 156.5h0M549.4 155.8h0M538.9 156.1h0M544.3 160.1h0M545.5 151.7h0M513.0 160.9h0M540.1 169.0h0M543.2 156.0h0M529.6 168.0h0M504.0 154.8h0M528.1 176.2h0M548.9 147.8h0M539.5 165.6h0M518.3 169.9h0M548.8 146.3h0M521.3 173.0h0M512.8 159.9h0M524.3 164.4h0M533.8 173.1h0M509.8 151.5h0M512.6 165.9h0M551.3 164.0h0M545.7 165.3h0M520.8 164.6h0M546.1 159.1h0M502.1 148.5h0M549.8 161.6h0M518.6 175.2h0M540.0 160.1h0M510.7 167.2h0M540.6 171.2h0M523.5 172.8h0M547.6 153.4h0M521.7 172.5h0M541.5 156.0h0M510.4 172.4h0M547.6 147.0h0M527.9 165.4h0M535.3 163.0h0M521.2 168.7h0M501.9 159.7h0M539.3 161.8h0M507.6 162.1h0M508.4 163.9h0M521.2 172.8h0M545.6 153.9h0M516.7 158.7h0M502.8 160.9h0M504.1 149.5h0M509.2 160.0h0M550.7 142.2h0M539.0 172.5h0M509.2 169.8h0M518.9 165.8h0M501.9 147.0h0M551.3 150.6h0M549.4 143.6h0M521.3 169.3h0M543.7 156.7h0M523.1 165.3h0M503.0 157.3h0M545.7 162.6h0M523.6 166.3h0M547.0 163.2h0M550.4 159.7h0M535.2 167.8h0M535.4 168.0h0M530.9 175.2h0M527.6 176.6h0M544.9 157.7h0M550.3 159.2h0M551.4 152.3h0M532.1 169.5h0M521.1 173.4h0M548.0 153.7h0M537.2 167.8h0M503.5 151.4h0M543.4 171.0h0M532.6 166.3h0M518.0 164.7h0M522.0 177.1h0M546.1 157.4h0M501.8 165.6h0M551.6 160.1h0M509.9 162.7h0M525.0 174.0h0M542.0 159.6h0M525.0 168.4h0M517.6 172.0h0M536.5 164.7h0M522.1 172.0h0M518.3 163.9h0M510.1 154.5h0M515.9 164.6h0M511.9 156.3h0M524.7 164.1h0M534.4 168.2h0M549.0 144.9h0M547.6 163.4h0M551.3 157.4h0M546.0 168.6h0M517.0 163.6h0M518.3 163.4h0M511.1 173.0h0M515.9 165.6h0M506.4 154.1h0M502.7 150.3h0M550.4 161.1h0M522.4 163.9h0M521.9 174.0h0M527.2 169.0h0M551.6 151.4h0M543.7 161.6h0M504.9 148.7h0M505.6 155.1h0M531.9 170.3h0M542.8 164.3h0M511.1 155.8h0M505.8 154.0h0M550.5 159.9h0M551.3 144.8h0M502.5 150.5h0M532.1 165.7h0M525.9 174.2h0M542.4 162.0h0M546.7 156.1h0M511.3 159.4h0M549.9 149.6h0M535.4 162.3h0M538.0 159.8h0M536.9 160.1h0M503.0 160.7h0M522.7 170.0h0M527.0 168.3h0M506.8 156.9h0M548.1 147.9h0M546.5 162.6h0M524.0 172.8h0M509.9 155.8h0M551.0 158.3h0M511.5 159.7h0M514.6 161.9h0M532.1 165.0h0M524.2 177.4h0M512.8 161.7h0M508.9 156.6h0M512.4 164.8h0M502.7 146.9h0M514.9 166.4h0M543.1 171.4h0M519.7 161.1h0M506.5 150.9h0M542.2 158.3h0M519.0 163.6h0M550.7 143.7h0M533.9 176.5h0M551.5 148.9h0M504.0 143.7h0M525.9 172.2h0M526.0 168.4h0M546.5 148.8h0M514.0 167.0h0M541.5 166.8h0M504.5 163.9h0M530.7 173.6h0M542.9 156.7h0M547.4 160.5h0M514.4 158.8h0M546.1 149.7h0M541.8 163.7h0M505.7 149.2h0M529.9 176.5h0M528.1 168.3h0M513.4 157.1h0M530.9 170.4h0M542.5 159.7h0M540.4 161.4h0M509.0 150.4h0M560.5 168.2h0M489.9 171.2h0M559.3 167.9h0M559.7 170.8h0M553.6 171.1h0M495.1 168.8h0M564.2 167.9h0M489.4 173.1h0M496.2 173.1h0M495.6 168.0h0M494.5 173.0h0M565.0 168.7h0M493.5 167.9h0M553.5 168.1h0M562.5 172.8h0M500.2 173.1h0M559.3 173.2h0M493.6 172.8h0M505.5 170.8h0M554.6 171.1h0M565.3 173.1h0M488.5 168.7h0M553.7 172.9h0M552.0 168.6h0M562.5 173.2h0M554.3 168.7h0M501.3 171.2h0M563.1 173.1h0M506.1 173.0h0M504.0 168.8h0M506.6 172.9h0M561.3 172.9h0M558.4 172.8h0M564.6 172.8h0M491.3 173.0h0M501.3 172.7h0M498.3 167.9h0M558.1 168.7h0M491.1 168.7h0M562.2 167.7h0M559.1 171.2h0M556.9 171.0h0M558.6 168.9h0M555.7 172.8h0M564.3 168.0h0M500.1 168.1h0M502.4 170.8h0M556.0 168.8h0M495.2 170.9h0M504.7 168.9h0M547.5 167.7h0M503.1 172.8h0M496.8 168.8h0M551.6 172.8h0M496.8 168.6h0M505.3 173.1h0M492.1 173.0h0M494.7 168.0h0M552.7 168.9h0M492.9 172.8h0M493.8 172.8h0M493.1 171.1h0M555.8 171.2h0M550.9 168.8h0M557.8 171.1h0M496.0 171.1h0M497.4 172.8h0M561.7 168.7h0M489.0 168.8h0M550.4 168.5h0M565.4 168.8h0M549.8 173.2h0M558.1 167.7h0M554.2 173.2h0M559.5 168.5h0M560.7 173.1h0M553.7 172.7h0M489.9 168.8h0M493.7 168.6h0M563.9 173.0h0M555.9 168.0h0M560.3 172.8h0M494.4 168.0h0M489.0 172.9h0M497.8 167.7h0M498.3 172.8h0M546.9 173.0h0M503.6 168.5h0M504.5 171.1h0M562.3 168.4h0M491.2 170.8h0M496.5 167.8h0M500.5 171.3h0M557.3 168.8h0M551.1 170.9h0M547.9 168.8h0M549.9 172.8h0M564.1 171.0h0M488.3 171.1h0M552.6 167.8h0M497.8 170.9h0M501.7 168.0h0M562.2 171.1h0M544.9 172.0h0M543.3 174.3h0M532.6 177.3h0M533.3 177.2h0M516.0 176.5h0M515.2 177.2h0M531.9 177.4h0M542.1 175.0h0M506.9 171.5h0M541.5 175.2h0M515.1 176.3h0M517.1 176.6h0M536.1 176.8h0M534.7 177.3h0M513.1 175.6h0M545.1 172.2h0M539.0 175.8h0M520.7 178.0h0M535.8 177.1h0M513.7 175.3h0M507.0 170.8h0M520.3 177.2h0M516.6 177.3h0M540.2 176.0h0M541.8 174.0h0M517.3 177.6h0M512.6 176.2h0M508.8 172.3h0M512.5 175.2h0M509.8 174.6h0M536.6 177.7h0M522.0 176.3h0M510.6 174.7h0M510.7 174.5h0M527.0 178.0h0M514.7 175.5h0M534.8 176.7h0M537.3 177.2h0M508.4 172.9h0M540.2 176.3h0M521.2 177.8h0M537.5 176.6h0M522.5 177.7h0M519.2 177.8h0M542.1 174.2h0M540.5 174.3h0M537.9 176.1h0M513.4 176.6h0M531.1 177.3h0M536.9 177.0h0M546.6 171.7h0M510.3 174.3h0M509.7 173.2h0M512.5 174.3h0M544.2 173.2h0M512.0 175.5h0M511.3 173.9h0M533.8 177.6h0M545.1 173.1h0M507.5 172.9h0M508.1 173.0h0M543.5 132.6h0M509.2 128.4h0M551.2 126.2h0M509.4 132.6h0M502.4 134.1h0M547.3 127.1h0M546.6 142.1h0M543.8 127.8h0M548.1 136.5h0M549.1 139.7h0" stroke="#979797" stroke-width="2.1" stroke-linecap="round" fill="none"/>
<path d="M562.5 145.5h0M553.6 143.4h0M569.2 151.3h0M557.2 154.6h0M558.8 146.4h0M553.3 165.3h0M566.7 121.1h0M558.8 135.8h0M558.2 157.3h0M555.9 151.0h0M565.7 153.2h0M562.5 151.4h0M559.3 141.1h0M571.9 156.2h0M570.3 112.1h0M573.7 112.3h0M562.8 141.6h0M561.7 144.9h0M554.9 149.6h0M561.0 126.2h0M553.2 163.5h0M561.6 133.4h0M559.3 126.8h0M557.2 144.3h0M556.3 141.9h0M564.6 127.8h0M557.5 153.3h0M554.9 141.0h0M556.4 143.6h0M584.7 164.0h0M554.8 155.1h0M560.5 150.1h0M589.8 147.4h0M553.0 141.1h0M551.8 145.1h0M556.5 166.4h0M556.1 160.6h0M562.9 118.8h0M556.6 157.4h0M562.6 135.9h0M552.0 159.6h0M555.4 150.6h0M552.0 160.0h0M559.9 146.9h0M567.3 129.7h0M553.6 157.8h0M554.9 147.5h0M555.6 163.5h0M559.2 165.4h0M561.7 123.9h0M565.2 162.6h0M572.8 128.0h0M552.3 143.1h0M560.4 163.0h0M557.5 156.5h0M559.2 127.9h0M563.8 140.0h0M552.7 158.1h0M555.5 141.8h0M558.3 163.3h0M557.2 164.2h0M554.2 156.6h0M575.6 121.3h0M554.3 159.3h0M566.3 165.9h0M566.5 153.6h0M558.9 141.8h0M559.4 154.4h0M564.5 130.9h0M560.5 155.4h0M559.7 164.6h0M559.4 143.5h0M554.7 160.0h0M558.3 165.3h0M558.0 131.4h0M552.5 142.6h0M557.3 157.9h0M567.1 140.8h0M563.0 166.3h0M561.6 142.1h0M558.8 140.3h0M554.0 152.9h0M563.7 154.3h0M563.0 147.8h0M560.9 165.8h0M557.5 156.2h0M560.5 148.5h0M562.8 119.3h0M558.2 166.4h0M557.5 160.8h0M552.3 149.5h0M566.4 116.1h0M556.3 163.4h0M552.6 144.5h0M574.6 151.1h0M560.6 156.4h0M578.9 162.6h0M555.6 161.6h0M565.1 150.4h0M556.9 148.1h0M567.5 122.9h0M555.7 165.0h0M558.0 141.6h0M558.2 136.3h0M559.5 127.5h0M558.1 156.7h0M553.4 145.8h0M563.0 156.5h0M554.4 143.8h0M554.3 143.5h0M560.9 145.1h0M551.9 157.9h0M557.9 148.0h0M561.1 144.1h0M567.9 126.7h0M552.3 141.9h0M562.4 133.7h0M560.2 148.1h0M553.7 158.5h0M558.7 165.9h0M556.8 150.1h0M556.4 137.7h0M579.4 106.5h0M558.4 153.3h0M568.4 165.6h0M553.0 159.8h0M566.9 159.5h0M559.6 138.3h0M563.2 159.0h0M552.3 150.9h0M560.5 126.9h0M557.0 161.7h0M554.6 163.0h0M555.0 151.4h0M554.6 143.2h0M563.8 129.9h0M560.8 140.9h0M580.0 117.4h0M555.0 145.5h0M552.7 139.8h0M555.9 146.2h0M553.8 145.4h0M563.1 150.4h0M557.2 138.2h0M555.3 134.5h0M558.4 161.1h0M561.7 163.9h0M560.4 150.9h0M559.9 135.8h0M555.9 159.5h0M556.6 138.1h0M555.7 136.2h0M553.7 139.7h0M563.8 151.6h0M604.5 81.3h0M563.7 153.6h0M556.7 137.0h0M571.9 122.5h0M558.2 145.5h0M558.4 147.9h0M561.7 123.6h0M559.7 128.9h0M570.0 138.8h0M557.7 145.6h0M554.9 135.8h0M561.3 157.4h0M557.4 137.7h0M572.1 164.2h0M558.6 129.4h0M579.6 133.7h0M553.8 149.2h0M554.6 140.5h0M555.2 164.9h0M552.8 162.3h0M553.5 164.6h0M555.9 164.4h0M554.7 165.5h0M565.4 133.6h0M551.9 145.6h0M559.3 153.2h0M564.6 166.6h0M566.3 115.2h0M584.6 156.0h0M566.4 117.0h0M554.7 142.3h0M570.0 136.0h0M561.7 166.1h0M569.7 161.8h0M558.2 150.0h0M555.4 159.4h0M556.4 161.2h0M568.9 154.3h0M565.8 136.5h0M552.0 150.5h0M561.1 134.8h0M572.5 134.4h0M568.1 145.3h0M557.7 162.5h0M560.4 153.2h0M556.6 156.2h0M559.4 137.1h0M574.8 101.6h0M554.7 158.4h0M578.5 149.1h0M559.7 142.5h0M555.1 139.5h0M567.8 122.6h0M563.5 150.7h0M558.0 151.6h0M571.7 152.2h0M571.8 107.2h0M557.5 154.0h0M557.8 166.5h0M552.9 144.8h0M556.9 144.5h0M595.2 112.3h0M551.9 149.3h0M563.0 148.6h0M573.7 123.7h0M567.2 133.5h0M556.3 165.3h0M554.7 137.3h0M558.5 138.9h0M559.4 132.5h0M560.7 147.3h0M562.4 120.4h0M571.0 123.7h0M561.7 151.2h0M558.7 154.3h0M553.1 161.5h0M557.3 130.1h0M560.4 144.6h0M562.1 134.1h0M552.5 147.7h0M556.5 158.8h0M563.2 164.9h0M568.8 112.9h0M573.8 146.7h0M568.8 108.1h0M568.1 146.6h0M562.0 128.3h0M557.3 134.3h0M563.7 162.1h0M553.3 149.3h0M569.6 163.8h0M561.5 158.4h0M563.8 157.4h0M556.2 155.0h0M556.6 131.8h0M570.6 115.9h0M553.3 150.4h0M560.2 150.0h0M581.5 125.6h0M571.1 162.7h0M558.5 132.9h0M561.7 144.4h0M559.0 154.8h0M559.2 166.6h0M571.7 142.9h0M569.7 118.0h0M554.8 162.1h0M555.0 149.0h0M558.0 147.1h0M553.0 150.5h0M555.9 160.4h0M568.9 159.5h0M554.5 141.5h0M553.4 166.3h0M553.4 161.2h0M556.0 141.2h0M552.2 160.5h0M570.7 103.6h0M558.6 147.6h0M561.2 159.3h0M564.3 132.6h0M559.5 150.5h0M566.9 143.6h0M562.2 148.2h0M558.7 152.7h0M565.7 122.5h0M552.2 155.7h0M572.8 137.8h0M551.9 160.9h0M552.2 157.3h0M572.0 114.2h0M562.7 122.8h0M552.6 166.7h0M559.5 164.3h0M561.0 136.8h0M553.3 146.7h0M563.3 159.8h0M560.6 152.5h0M564.8 158.3h0M559.4 162.3h0M565.4 114.3h0M558.0 155.5h0M552.1 165.5h0M559.0 164.7h0M553.6 156.4h0M554.3 147.0h0M574.7 161.5h0M552.4 166.1h0M562.4 137.9h0M561.0 163.2h0M562.7 140.7h0M551.8 152.5h0M566.7 144.5h0M559.0 150.3h0M563.5 132.8h0M569.0 145.4h0M587.2 98.4h0M556.0 136.8h0M552.2 156.7h0M570.5 144.8h0M554.0 160.4h0M553.8 154.2h0M576.2 158.7h0M552.8 148.5h0M558.0 164.3h0M554.3 147.4h0M554.8 164.0h0M555.0 157.0h0M603.9 137.4h0M553.3 156.1h0M551.8 165.1h0M567.6 111.5h0M580.2 127.9h0M558.5 150.4h0M559.5 130.8h0M560.0 128.7h0M564.3 124.9h0M570.3 150.7h0M556.8 151.6h0M552.1 141.9h0M554.0 151.4h0M557.3 141.3h0M559.1 139.1h0M556.3 158.5h0M577.5 156.4h0M557.7 148.8h0M561.6 154.2h0M576.5 107.1h0M558.8 149.1h0M561.4 134.8h0M571.1 128.6h0M564.4 158.0h0M558.9 161.9h0M569.9 146.3h0M559.9 137.4h0M561.8 133.8h0M565.0 161.5h0M572.0 135.0h0M555.7 158.6h0M569.8 156.9h0M564.6 160.7h0M562.0 149.2h0M562.3 162.6h0M559.7 127.2h0M567.7 148.4h0M568.8 129.0h0M559.8 152.8h0M564.6 143.1h0M565.8 160.8h0M556.7 162.8h0M571.5 145.2h0M571.3 149.5h0M555.5 140.0h0M556.5 154.3h0M554.9 148.6h0M557.3 159.4h0M562.1 128.0h0M563.5 131.9h0M551.8 156.8h0M567.1 149.0h0M560.4 141.4h0M613.5 160.1h0M565.5 114.4h0M561.0 130.8h0M574.7 151.3h0M552.3 146.8h0M561.0 158.4h0M554.5 164.8h0M565.7 148.6h0M561.3 138.6h0M563.3 136.5h0M594.7 126.0h0M559.8 159.5h0M556.5 140.8h0M556.2 157.6h0M562.8 142.6h0M569.7 165.9h0M552.7 154.4h0M568.0 162.9h0M555.3 153.9h0M566.2 122.0h0M557.3 147.7h0M582.1 133.9h0M561.5 154.9h0M560.0 155.4h0M558.7 162.2h0M570.5 138.7h0M562.3 156.7h0M562.0 129.3h0M559.7 135.2h0M562.1 126.8h0M557.7 157.5h0M557.7 166.0h0M564.4 162.1h0M560.1 131.5h0M570.0 126.9h0M567.2 147.8h0M571.8 150.9h0M557.8 165.3h0M554.7 157.6h0M553.0 165.8h0M553.5 138.5h0M563.9 166.5h0M564.6 134.1h0M560.4 166.3h0M551.8 148.1h0M568.9 149.7h0M566.4 146.6h0M563.8 154.4h0M563.2 161.6h0M556.7 147.7h0M564.8 166.2h0M561.5 148.4h0M566.7 163.9h0M560.4 165.2h0M590.0 99.2h0M558.7 143.2h0M582.7 110.2h0M554.0 166.5h0M557.1 139.2h0M553.7 158.8h0M554.8 152.6h0M555.4 155.6h0M558.2 160.3h0M553.8 157.6h0M560.6 155.4h0M571.9 159.8h0M567.2 160.1h0M556.6 160.4h0M559.6 161.2h0M570.8 107.0h0M557.7 136.5h0M557.6 132.6h0M556.9 151.2h0M561.9 122.7h0M557.1 161.3h0M563.2 163.6h0M568.5 115.4h0M559.8 161.7h0M554.1 162.1h0M556.0 153.3h0M554.7 162.5h0M573.3 103.4h0M558.0 133.0h0M567.4 131.4h0M564.1 156.4h0M559.2 144.0h0M552.1 163.8h0M563.3 164.3h0M571.8 118.0h0M569.9 130.3h0M563.9 149.1h0M561.2 129.0h0M562.1 121.1h0M563.5 157.6h0M555.6 148.7h0M561.2 151.5h0M562.9 140.8h0M562.5 164.7h0M564.7 138.3h0M555.7 156.3h0M556.3 164.2h0M558.9 158.1h0M574.5 128.1h0M566.4 136.3h0M552.9 149.8h0M553.1 152.2h0M554.9 135.4h0M556.0 133.1h0M562.1 136.9h0M555.5 147.0h0M565.5 154.7h0M562.7 134.8h0M569.4 107.2h0M559.0 133.4h0M571.4 117.3h0M566.3 150.1h0M565.3 121.5h0M563.5 151.7h0M577.0 153.8h0M565.5 123.1h0M573.2 130.8h0M562.0 142.0h0M560.8 138.5h0M569.9 111.4h0M558.1 143.8h0M565.2 140.5h0M551.8 149.8h0M554.2 164.1h0M555.4 163.7h0M559.1 159.8h0M560.7 137.3h0M572.1 132.7h0M561.8 127.8h0M597.5 117.3h0M552.8 164.8h0M559.6 152.2h0M595.2 100.7h0M568.6 159.1h0M570.9 160.1h0M555.6 143.8h0M563.1 155.0h0M558.3 134.1h0M553.6 154.6h0M563.7 118.2h0M564.6 144.8h0M554.1 145.0h0M554.4 161.2h0M610.5 161.1h0M558.8 128.9h0M562.9 163.5h0M559.0 132.0h0M560.1 160.3h0M565.8 120.7h0M558.7 138.7h0M561.3 126.0h0M555.8 147.5h0M569.3 121.4h0M561.6 155.5h0M559.7 130.7h0M564.8 129.9h0M561.3 135.6h0M568.8 156.9h0M562.3 166.2h0M555.0 153.4h0M557.6 141.1h0M573.4 98.8h0M562.3 152.2h0M554.1 156.2h0M569.3 165.3h0M599.9 161.3h0M564.4 150.1h0M558.9 148.2h0M564.3 164.8h0M569.8 159.6h0M563.7 140.3h0M563.3 141.3h0M566.1 130.2h0M561.4 126.8h0M557.7 163.5h0M569.1 162.5h0M579.4 150.0h0M565.1 124.0h0M564.3 116.6h0M557.4 134.6h0M557.7 151.1h0M565.7 151.9h0M554.2 166.2h0M566.4 131.9h0M556.3 132.9h0M573.8 119.4h0M552.3 155.2h0M574.3 149.9h0M556.0 152.4h0M577.0 121.0h0M555.1 136.5h0M561.4 139.8h0M557.6 130.8h0M563.1 129.0h0M555.4 166.6h0M565.7 166.2h0M559.0 134.6h0M553.0 141.7h0M576.0 165.8h0M562.4 149.8h0M559.9 139.4h0M563.4 166.1h0M552.2 151.9h0M563.0 142.6h0M564.5 136.3h0M559.4 156.8h0M560.8 131.7h0M586.2 139.1h0M605.1 111.9h0M565.7 165.2h0M569.9 116.4h0M553.1 142.6h0M569.0 163.9h0M569.1 119.5h0M553.7 144.7h0M561.8 132.5h0M587.0 75.2h0M558.5 144.6h0M561.2 160.3h0M558.2 137.7h0M562.4 154.2h0M558.7 149.2h0M577.5 158.5h0M573.1 139.2h0M562.4 158.0h0M552.0 157.4h0M570.0 109.7h0M565.6 155.8h0M558.1 155.1h0M565.8 162.1h0M565.3 116.2h0M553.5 147.3h0M561.4 137.0h0M564.1 138.9h0M556.7 135.6h0M570.6 147.3h0M559.8 136.8h0M553.1 162.5h0M574.8 143.6h0M572.4 151.7h0M551.9 154.8h0M560.8 136.0h0M552.8 140.9h0M565.1 139.8h0M588.3 90.8h0M573.8 126.0h0M572.4 121.2h0M564.6 128.2h0M560.1 146.0h0M566.9 141.3h0M564.8 163.2h0M567.4 154.6h0M568.8 159.8h0M554.2 150.4h0M563.0 155.8h0M601.2 75.8h0M562.5 123.6h0M574.4 133.2h0M560.8 160.8h0M579.1 101.3h0M564.9 139.1h0M559.9 151.4h0M589.1 101.0h0M561.1 164.3h0M561.2 143.5h0M567.4 113.7h0M574.4 157.7h0M566.6 128.8h0M555.8 145.0h0M562.9 152.3h0M562.8 151.2h0M565.0 115.1h0M570.5 140.4h0M557.5 144.9h0M552.3 146.2h0M555.9 137.5h0M571.9 165.3h0M582.3 145.5h0M560.9 133.5h0M562.2 132.1h0M561.6 124.8h0M568.5 151.7h0M561.8 147.1h0M573.8 148.0h0M552.1 147.8h0M560.2 133.3h0M563.1 144.0h0M568.0 116.5h0M557.7 136.2h0M569.3 125.8h0M556.5 135.4h0M575.3 158.2h0M564.3 118.2h0M568.7 135.1h0M565.3 147.5h0M570.1 145.0h0M575.4 156.4h0M564.4 148.1h0M556.7 156.9h0M571.6 106.7h0M561.2 125.3h0M563.3 138.2h0M584.1 95.0h0M560.2 140.8h0M552.8 164.6h0M566.9 164.7h0M561.7 159.4h0M561.8 153.2h0M577.1 110.1h0M553.0 148.0h0M560.3 125.2h0M552.8 163.0h0M565.7 136.1h0M570.1 166.4h0M571.3 141.4h0M573.4 166.5h0M576.3 114.8h0M556.1 142.9h0M565.7 132.4h0M568.1 166.4h0M557.4 142.6h0M580.4 129.6h0M569.1 123.7h0M573.7 116.3h0M565.6 159.9h0M553.2 151.9h0M564.8 153.7h0M571.0 143.0h0M555.4 139.6h0M593.4 152.6h0M570.7 153.8h0M564.0 138.6h0M579.6 165.5h0M551.8 162.0h0M566.4 148.5h0M557.8 151.3h0M552.2 159.2h0M557.6 140.2h0M554.3 153.6h0M569.5 125.4h0M557.3 147.0h0M558.3 142.8h0M555.2 141.8h0M564.3 133.6h0M556.9 152.8h0M573.0 141.6h0M569.2 118.6h0M554.3 155.3h0M579.0 91.4h0M561.6 163.7h0M569.9 136.5h0M560.8 142.5h0M556.6 134.3h0M569.2 157.8h0M580.2 95.3h0M572.5 149.5h0M576.8 121.8h0M554.4 138.6h0M556.1 165.8h0M554.5 136.2h0M577.0 156.6h0M556.9 154.9h0M576.0 109.5h0M561.7 147.4h0M564.7 127.2h0M567.7 163.4h0M566.2 118.8h0M560.1 155.7h0M574.9 114.2h0M559.3 147.4h0M560.8 153.2h0M570.9 148.2h0M571.2 157.6h0M564.8 142.5h0M562.2 147.0h0M568.7 132.2h0M576.4 153.6h0M571.2 158.8h0M557.7 129.4h0M559.8 144.6h0M576.1 99.8h0M562.9 147.4h0M556.1 154.2h0M554.0 137.2h0M564.3 165.9h0M564.9 152.1h0M563.2 137.7h0M559.0 145.8h0M580.6 142.0h0M558.3 134.8h0M567.4 110.8h0M561.6 143.6h0M561.8 166.7h0M561.0 154.3h0M568.4 127.9h0M569.4 128.7h0M562.2 125.9h0M568.1 142.6h0M576.2 122.8h0M562.7 161.4h0M552.2 153.6h0M565.0 118.6h0M575.0 166.0h0M561.6 131.4h0M571.9 147.1h0M565.1 146.3h0M567.3 137.7h0M558.2 141.2h0M557.9 139.3h0M565.5 114.6h0M560.3 158.4h0M571.5 165.5h0M557.4 152.1h0M557.5 133.0h0M559.8 166.1h0M564.2 160.6h0M590.6 90.4h0M560.1 139.6h0M573.5 124.7h0M566.3 130.4h0M565.8 115.7h0M570.5 146.9h0M594.3 160.7h0M562.7 161.1h0M614.7 8.7h0M565.5 61.6h0M584.2 72.4h0M599.2 72.4h0M606.7 96.5h0M603.0 103.7h0M578.0 82.1h0M561.7 83.3h0M591.7 142.2h0M584.2 151.8h0M616.7 103.7h0M614.2 122.9h0M599.2 127.8h0M594.2 113.3h0M605.5 109.7h0" stroke="#ef6b88" stroke-width="2.1" stroke-linecap="round" fill="none"/>
<path d="M499.0 139.1h0M488.1 137.8h0M494.6 158.6h0M491.9 134.5h0M484.8 134.0h0M496.6 123.9h0M497.5 132.9h0M493.9 137.0h0M485.1 106.5h0M493.1 159.4h0M500.4 129.2h0M494.0 150.0h0M500.9 152.1h0M482.3 105.7h0M493.4 137.9h0M498.7 141.5h0M499.6 149.5h0M493.4 162.6h0M495.6 127.8h0M493.6 153.7h0M486.3 128.6h0M501.0 159.7h0M498.7 140.2h0M494.6 164.7h0M493.2 131.7h0M500.3 130.8h0M498.9 144.4h0M501.2 153.8h0M492.9 136.1h0M498.4 131.1h0M497.8 141.9h0M500.8 156.4h0M501.4 163.6h0M500.1 149.9h0M499.4 152.6h0M496.6 135.6h0M487.7 124.6h0M489.4 113.6h0M497.2 163.2h0M498.0 143.4h0M489.4 141.9h0M491.5 165.2h0M477.3 136.7h0M494.0 133.9h0M500.0 134.6h0M496.2 135.2h0M498.8 133.1h0M499.5 151.8h0M497.0 142.6h0M489.2 154.1h0M476.4 146.5h0M495.3 144.3h0M496.8 158.6h0M488.9 121.5h0M498.5 155.6h0M495.9 163.4h0M490.5 137.1h0M487.8 141.8h0M501.1 148.7h0M498.1 128.9h0M499.4 131.8h0M497.7 138.6h0M492.7 154.9h0M496.1 149.6h0M497.1 155.6h0M499.9 162.2h0M489.7 141.1h0M496.1 150.3h0M492.7 160.0h0M482.8 159.0h0M493.4 156.0h0M483.8 120.9h0M464.9 105.4h0M498.6 135.8h0M492.8 147.4h0M480.2 126.1h0M497.0 160.6h0M490.9 150.6h0M471.1 164.2h0M494.6 145.1h0M501.0 158.5h0M499.9 156.7h0M499.8 166.6h0M495.1 166.6h0M485.1 162.8h0M490.0 154.8h0M497.4 129.6h0M491.0 133.6h0M495.4 134.8h0M492.8 120.6h0M500.2 154.8h0M490.6 165.7h0M498.8 160.1h0M500.9 140.1h0M494.7 153.2h0M489.6 115.8h0M493.4 122.0h0M498.0 143.8h0M498.4 160.9h0M501.5 133.8h0M500.2 151.0h0M498.8 141.6h0M490.2 149.6h0M490.7 161.2h0M487.2 160.9h0M486.9 137.9h0M499.1 162.9h0M498.3 157.3h0M485.2 154.1h0M500.7 132.8h0M492.1 128.1h0M488.4 165.0h0M490.9 128.3h0M493.2 152.4h0M492.5 163.8h0M495.3 138.0h0M495.3 146.3h0M491.5 141.8h0M488.2 148.4h0M497.4 160.5h0M495.0 161.6h0M498.3 128.5h0M501.1 154.9h0M479.3 160.0h0M497.4 158.6h0M486.3 129.6h0M486.6 132.7h0M494.9 136.9h0M488.4 163.5h0M497.4 131.7h0M500.7 166.2h0M490.2 156.0h0M501.4 166.1h0M499.2 143.3h0M494.5 163.0h0M490.0 165.3h0M487.4 152.3h0M499.4 155.7h0M499.4 153.3h0M497.5 150.4h0M487.2 136.9h0M491.5 125.4h0M490.4 147.7h0M492.0 154.5h0M497.8 137.2h0M494.6 149.3h0M500.6 133.6h0M492.8 141.5h0M482.7 162.1h0M489.3 128.1h0M501.1 164.7h0M501.2 145.4h0M480.6 140.0h0M491.6 158.1h0M494.8 154.5h0M496.3 155.1h0M498.8 157.2h0M500.2 133.6h0M499.8 164.3h0M495.0 147.2h0M493.2 155.4h0M492.3 133.2h0M492.8 139.6h0M488.2 110.1h0M494.2 166.4h0M490.6 148.3h0M500.3 164.6h0M500.6 155.6h0M501.2 142.8h0M496.5 152.8h0M496.3 125.9h0M494.5 154.0h0M495.2 145.0h0M482.4 148.9h0M475.5 131.1h0M501.0 162.8h0M497.2 165.8h0M468.0 122.6h0M491.6 156.0h0M493.6 161.5h0M482.8 161.0h0M496.6 131.8h0M483.2 123.4h0M486.1 113.3h0M494.1 135.0h0M500.6 151.2h0M496.9 127.4h0M490.3 135.8h0M499.1 132.1h0M497.9 140.8h0M493.5 124.4h0M497.0 156.6h0M494.2 151.5h0M493.4 149.8h0M500.9 147.5h0M495.6 147.3h0M498.4 138.3h0M500.1 128.6h0M498.4 162.2h0M496.2 145.1h0M494.1 165.6h0M495.6 159.5h0M491.1 117.1h0M472.7 138.2h0M488.8 127.5h0M488.0 165.9h0M483.4 129.1h0M492.6 165.6h0M494.1 164.4h0M497.6 159.0h0M480.2 142.5h0M501.5 151.5h0M488.0 144.1h0M492.1 151.7h0M494.9 162.7h0M489.6 150.0h0M489.2 136.3h0M491.0 154.2h0M484.9 113.4h0M493.3 136.3h0M493.8 160.1h0M488.3 145.2h0M498.5 149.9h0M492.0 152.5h0M485.9 118.0h0M484.6 104.8h0M490.0 157.8h0M498.2 164.9h0M488.5 114.8h0M497.9 153.9h0M494.7 149.8h0M497.7 140.2h0M490.9 114.3h0M491.3 158.9h0M492.5 152.9h0M495.2 134.1h0M501.4 130.3h0M501.7 166.7h0M494.2 135.5h0M501.2 134.3h0M489.3 142.1h0M489.7 129.9h0M496.5 123.5h0M498.8 149.9h0M501.3 160.5h0M493.4 147.1h0M481.4 124.8h0M491.8 163.4h0M497.5 164.3h0M497.1 153.0h0M490.6 123.1h0M500.4 154.5h0M491.2 117.0h0M497.2 148.0h0M474.4 137.6h0M493.9 138.2h0M491.4 140.9h0M494.7 163.5h0M496.3 139.4h0M499.8 127.8h0M492.1 136.3h0M496.1 162.2h0M499.5 146.5h0M473.4 147.4h0M487.6 145.3h0M496.9 163.6h0M496.9 153.9h0M486.7 155.3h0M491.1 158.1h0M494.5 132.6h0M497.9 150.1h0M493.7 122.1h0M491.8 117.3h0M483.1 111.3h0M501.6 143.7h0M494.9 121.3h0M491.9 166.1h0M500.8 163.2h0M495.7 130.7h0M491.1 119.5h0M495.9 133.9h0M458.7 117.4h0M493.7 144.1h0M489.3 140.1h0M489.0 163.1h0M495.1 121.1h0M501.4 131.1h0M499.1 150.4h0M501.7 155.3h0M500.8 164.3h0M499.1 127.8h0M486.9 165.4h0M497.2 152.8h0M495.6 161.7h0M498.8 129.1h0M487.3 147.6h0M492.5 148.1h0M490.5 161.8h0M488.8 130.5h0M473.2 149.6h0M499.2 134.1h0M498.5 164.0h0M487.6 122.3h0M494.7 137.3h0M499.3 148.4h0M495.9 124.6h0M483.9 135.6h0M494.7 120.1h0M496.3 151.1h0M491.5 166.7h0M497.3 144.5h0M493.3 145.5h0M487.0 117.5h0M482.5 104.3h0M499.9 151.7h0M485.7 165.6h0M496.6 159.2h0M498.1 149.3h0M499.2 130.0h0M501.2 130.6h0M492.4 154.5h0M499.6 136.7h0M491.0 122.1h0M497.2 138.9h0M483.1 136.2h0M490.7 159.3h0M488.2 138.3h0M498.2 129.9h0M486.2 117.0h0M492.0 154.7h0M498.9 145.3h0M499.1 149.2h0M485.6 164.6h0M500.9 146.5h0M501.6 153.2h0M494.8 160.0h0M497.2 154.2h0M500.0 142.0h0M500.1 132.8h0M490.8 155.1h0M497.8 154.8h0M491.3 156.4h0M500.7 149.9h0M490.5 166.3h0M493.4 163.7h0M497.6 140.8h0M488.2 134.6h0M498.6 127.1h0M484.9 144.8h0M500.2 153.7h0M488.3 161.3h0M498.6 133.2h0M501.6 140.3h0M496.9 146.0h0M496.9 155.8h0M494.5 158.3h0M501.3 147.4h0M486.4 135.6h0M498.6 142.2h0M500.9 145.4h0M481.9 152.6h0M496.8 132.3h0M499.1 156.5h0M485.5 142.8h0M492.1 143.1h0M500.6 136.8h0M487.4 162.0h0M494.6 128.7h0M495.9 138.3h0M492.9 149.1h0M499.1 164.2h0M496.2 132.4h0M499.9 139.1h0M481.2 152.2h0M494.2 150.8h0M500.9 162.0h0M493.9 121.0h0M488.3 127.6h0M501.3 138.6h0M493.0 156.5h0M491.1 157.9h0M494.6 166.2h0M494.9 143.1h0M499.8 138.5h0M495.2 159.3h0M494.2 155.9h0M487.0 126.6h0M488.1 147.6h0M489.6 137.8h0M489.7 161.9h0M495.7 147.0h0M500.4 143.1h0M485.3 119.8h0M497.1 143.2h0M494.0 146.7h0M500.7 138.8h0M499.5 162.6h0M496.1 128.1h0M479.0 143.9h0M499.1 165.0h0M483.8 160.1h0M490.4 126.0h0M492.1 144.8h0M487.3 166.0h0M499.1 158.2h0M493.2 133.3h0M496.5 136.8h0M490.2 151.1h0M496.5 150.0h0M483.7 163.5h0M482.6 118.0h0M499.0 141.0h0M494.1 149.3h0M489.4 164.5h0M489.6 140.3h0M501.0 143.8h0M501.7 150.8h0M494.9 124.7h0M490.2 158.0h0M495.3 130.6h0M500.8 141.5h0M497.8 147.3h0M497.2 124.1h0M497.3 145.4h0M498.1 148.1h0M478.8 95.4h0M485.0 159.8h0M489.7 117.7h0M485.3 129.2h0M495.6 152.0h0M491.4 136.0h0M496.3 157.8h0M489.2 159.9h0M490.1 123.6h0M495.4 156.9h0M493.3 153.8h0M494.1 121.6h0M499.8 166.2h0M493.0 135.8h0M500.7 151.3h0M486.4 153.8h0M465.0 132.6h0M496.6 134.1h0M498.1 137.9h0M501.3 135.8h0M496.3 152.0h0M491.9 119.5h0M491.1 136.0h0M487.5 119.6h0M484.9 127.6h0M490.7 157.0h0M486.3 107.8h0M482.4 111.6h0M494.9 148.5h0M495.5 141.0h0M481.3 126.7h0M491.0 142.5h0M497.9 155.1h0M474.2 139.7h0M482.8 147.9h0M495.3 152.2h0M493.4 134.1h0M501.5 148.8h0M496.9 124.6h0M488.4 140.7h0M500.6 140.7h0M492.1 124.9h0M491.0 144.3h0M476.7 158.8h0M488.4 154.6h0M492.5 162.0h0M497.6 161.8h0M490.1 139.2h0M497.6 127.2h0M498.9 136.6h0M493.6 144.7h0M490.6 152.2h0M501.7 145.0h0M490.1 114.8h0M499.0 135.1h0M486.6 140.2h0M479.7 143.6h0M486.2 133.4h0M499.6 163.3h0M496.2 141.3h0M497.3 136.8h0M494.6 148.3h0M496.2 153.4h0M496.7 149.3h0M496.6 164.5h0M495.5 151.1h0M490.9 163.2h0M496.9 166.0h0M488.0 131.4h0M492.4 132.7h0M501.0 158.9h0M458.0 80.9h0M453.0 114.5h0M465.5 108.5h0M471.7 106.1h0M486.7 103.7h0M484.2 104.9h0M459.2 144.6h0M464.2 144.6h0M474.2 144.6h0M469.2 135.0h0M465.5 139.8h0M476.7 131.4h0" stroke="#3896ee" stroke-width="2.1" stroke-linecap="round" fill="none"/>
<line x1="448.0" y1="1.0" x2="448.0" y2="184.6" stroke="#111" stroke-width="1.3"/>
<line x1="447.4" y1="184.0" x2="623.5" y2="184.0" stroke="#111" stroke-width="1.3"/>
<text x="438.5" y="10.2" font-size="8.6" font-weight="bold" text-anchor="middle" fill="#000">8</text>
<text x="438.5" y="58.3" font-size="8.6" font-weight="bold" text-anchor="middle" fill="#000">6</text>
<text x="438.5" y="106.3" font-size="8.6" font-weight="bold" text-anchor="middle" fill="#000">4</text>
<text x="438.5" y="154.4" font-size="8.6" font-weight="bold" text-anchor="middle" fill="#000">2</text>
<text x="475.6" y="197.1" font-size="8.6" font-weight="bold" text-anchor="middle" fill="#000">-2</text>
<text x="526.8" y="197.1" font-size="8.6" font-weight="bold" text-anchor="middle" fill="#000">0</text>
<text x="576.4" y="197.1" font-size="8.6" font-weight="bold" text-anchor="middle" fill="#000">2</text>
<text x="484.5" y="213.3" font-size="9.6" font-weight="bold" fill="#000">log<tspan font-size="6.4" dy="2">2</tspan><tspan dy="-2"> (Fold Change)</tspan></text>
<text transform="translate(419.5 132.7) rotate(-90)" font-size="9.5" font-weight="bold" fill="#000">log<tspan font-size="5.8" dy="2">10</tspan><tspan dy="-2"> (</tspan><tspan font-style="italic">p</tspan> value)</text>
<text x="452.3" y="9.9" font-size="8.2" font-weight="bold" fill="#000">Total Gene: 7456</text>
<text x="454.8" y="24.5" font-size="8.2" font-weight="bold" fill="#000">Significant</text>
<circle cx="460.1" cy="37.5" r="1.6" fill="#ef6b88"/><circle cx="460.1" cy="45.5" r="1.6" fill="#a8a8a8"/><circle cx="460.1" cy="53.6" r="1.6" fill="#3896ee"/>
<text x="467.0" y="38.7" font-size="8.2" font-weight="bold" fill="#000">Up (2863)</text>
<text x="467.0" y="48.1" font-size="8.2" font-weight="bold" fill="#000">No Difference (3477)</text>
<text x="467.0" y="57.6" font-size="8.2" font-weight="bold" fill="#000">Down (1116)</text>
<text x="3.4" y="236.9" font-size="12.5" font-weight="bold" fill="#000">d</text>
<rect x="31.4" y="260.2" width="27.5" height="144.8" fill="#f8f8f8"/>
<rect x="63.2" y="260.2" width="28.0" height="12.1" fill="#ef6182"/>
<rect x="91.5" y="260.2" width="28.4" height="12.1" fill="#1e8fff"/>
<text x="45.6" y="270.2" font-size="6.9" font-weight="bold" font-style="italic" text-anchor="middle" fill="#000">Sox5</text>
<rect x="63.2" y="272.3" width="28.0" height="12.1" fill="#ef6182"/>
<rect x="91.5" y="272.3" width="28.4" height="12.1" fill="#1e8fff"/>
<text x="45.6" y="282.3" font-size="6.9" font-weight="bold" font-style="italic" text-anchor="middle" fill="#000">HAPLN1</text>
<rect x="63.2" y="284.3" width="28.0" height="12.1" fill="#ef6182"/>
<rect x="91.5" y="284.3" width="28.4" height="12.1" fill="#1e8fff"/>
<text x="45.6" y="294.4" font-size="6.9" font-weight="bold" font-style="italic" text-anchor="middle" fill="#000">GDF5</text>
<rect x="63.2" y="296.4" width="28.0" height="12.1" fill="#ef6182"/>
<rect x="91.5" y="296.4" width="28.4" height="12.1" fill="#1e8fff"/>
<text x="45.6" y="306.4" font-size="6.9" font-weight="bold" font-style="italic" text-anchor="middle" fill="#000">TGFB2</text>
<rect x="63.2" y="308.5" width="28.0" height="12.1" fill="#ef6182"/>
<rect x="91.5" y="308.5" width="28.4" height="12.1" fill="#1e8fff"/>
<text x="45.6" y="318.5" font-size="6.9" font-weight="bold" font-style="italic" text-anchor="middle" fill="#000">EBF1</text>
<rect x="63.2" y="320.6" width="28.0" height="12.1" fill="#ef6182"/>
<rect x="91.5" y="320.6" width="28.4" height="12.1" fill="#1e8fff"/>
<text x="45.6" y="330.6" font-size="6.9" font-weight="bold" font-style="italic" text-anchor="middle" fill="#000">HIF1A</text>
<rect x="63.2" y="332.6" width="28.0" height="12.1" fill="#ef6182"/>
<rect x="91.5" y="332.6" width="28.4" height="12.1" fill="#1e8fff"/>
<text x="45.6" y="342.7" font-size="6.9" font-weight="bold" font-style="italic" text-anchor="middle" fill="#000">CRTAP</text>
<rect x="63.2" y="344.7" width="28.0" height="12.1" fill="#ef6182"/>
<rect x="91.5" y="344.7" width="28.4" height="12.1" fill="#1e8fff"/>
<text x="45.6" y="354.7" font-size="6.9" font-weight="bold" font-style="italic" text-anchor="middle" fill="#000">SMAD3</text>
<rect x="63.2" y="356.8" width="28.0" height="12.1" fill="#ef6182"/>
<rect x="91.5" y="356.8" width="28.4" height="12.1" fill="#1e8fff"/>
<text x="45.6" y="366.8" font-size="6.9" font-weight="bold" font-style="italic" text-anchor="middle" fill="#000">Sox6</text>
<rect x="63.2" y="368.8" width="28.0" height="12.1" fill="#ef6182"/>
<rect x="91.5" y="368.8" width="28.4" height="12.1" fill="#1e8fff"/>
<text x="45.6" y="378.9" font-size="6.9" font-weight="bold" font-style="italic" text-anchor="middle" fill="#000">ACAN</text>
<rect x="63.2" y="380.9" width="28.0" height="12.1" fill="#ef6182"/>
<rect x="91.5" y="380.9" width="28.4" height="12.1" fill="#1e8fff"/>
<text x="45.6" y="390.9" font-size="6.9" font-weight="bold" font-style="italic" text-anchor="middle" fill="#000">TGFBI</text>
<rect x="63.2" y="393.0" width="28.0" height="12.1" fill="#1e8fff"/>
<rect x="91.5" y="393.0" width="28.4" height="12.1" fill="#ef6182"/>
<text x="45.6" y="403.0" font-size="6.9" font-weight="bold" font-style="italic" text-anchor="middle" fill="#000">IL6R</text>
<path d="M63.2 272.27H119.9M63.2 284.34H119.9M63.2 296.41H119.9M63.2 308.48H119.9M63.2 320.55H119.9M63.2 332.62H119.9M63.2 344.69H119.9M63.2 356.76H119.9M63.2 368.83H119.9M63.2 380.90H119.9M63.2 392.97H119.9" stroke="#fff" stroke-opacity="0.45" stroke-width="0.6"/>
<line x1="91.2" y1="260.2" x2="91.2" y2="405.0" stroke="#fff" stroke-width="0.6" stroke-opacity="0.6"/>
<path d="M25.5 266.24H30.2M25.5 278.31H30.2M21.6 290.38H30.2M25.5 302.44H30.2M25.5 314.51H30.2M25.5 326.58H30.2M25.5 338.65H30.2M9.5 350.73H30.2M25.5 362.79H30.2M25.5 374.87H30.2M21.6 386.94H30.2M1.5 399.00H30.2M25.5 266.24V278.31M21.6 272.27H25.5M21.6 272.27V290.38M17.5 281.32H21.6M25.5 302.44V314.51M17.5 308.48H25.5M17.5 281.32V308.48M13.6 294.90H17.5M25.5 326.58V338.65M13.6 332.62H25.5M13.6 294.90V332.62M9.5 313.76H13.6M9.5 313.76V350.73M5.4 332.24H9.5M25.5 362.79V374.87M21.6 368.83H25.5M21.6 368.83V386.94M5.4 377.88H21.6M5.4 332.24V377.88M1.5 355.06H5.4M1.5 355.06V399.00" stroke="#6e6e6e" stroke-width="0.65" fill="none"/>
<rect x="125.2" y="259.1" width="62.6" height="147.2" fill="none" stroke="#c2c2c2" stroke-width="0.8"/>
<path d="M144.2 406.3v1.5M168.8 406.3v1.5" stroke="#999" stroke-width="0.5"/>
<rect x="144.0" y="262.9" width="31.8" height="6.7" fill="#8d8d8d" stroke="#555" stroke-width="0.45"/>
<rect x="144.0" y="275.0" width="30.8" height="6.7" fill="#8d8d8d" stroke="#555" stroke-width="0.45"/>
<rect x="144.0" y="287.0" width="31.5" height="6.7" fill="#8d8d8d" stroke="#555" stroke-width="0.45"/>
<rect x="144.0" y="299.1" width="28.0" height="6.7" fill="#8d8d8d" stroke="#555" stroke-width="0.45"/>
<rect x="144.0" y="311.2" width="35.9" height="6.7" fill="#8d8d8d" stroke="#555" stroke-width="0.45"/>
<rect x="144.0" y="323.2" width="14.8" height="6.7" fill="#8d8d8d" stroke="#555" stroke-width="0.45"/>
<rect x="144.0" y="335.3" width="19.6" height="6.7" fill="#8d8d8d" stroke="#555" stroke-width="0.45"/>
<rect x="144.0" y="347.4" width="44.0" height="6.7" fill="#8d8d8d" stroke="#555" stroke-width="0.45"/>
<rect x="144.0" y="359.4" width="12.6" height="6.7" fill="#8d8d8d" stroke="#555" stroke-width="0.45"/>
<rect x="144.0" y="371.5" width="16.5" height="6.7" fill="#8d8d8d" stroke="#555" stroke-width="0.45"/>
<rect x="144.0" y="383.6" width="26.0" height="6.7" fill="#8d8d8d" stroke="#555" stroke-width="0.45"/>
<rect x="125.4" y="395.7" width="18.6" height="6.7" fill="#8d8d8d" stroke="#555" stroke-width="0.45"/>
<path d="M123.9 266.2H125.2M123.9 278.3H125.2M123.9 290.4H125.2M123.9 302.4H125.2M123.9 314.5H125.2M123.9 326.6H125.2M123.9 338.7H125.2M123.9 350.7H125.2M123.9 362.8H125.2M123.9 374.9H125.2M123.9 386.9H125.2M123.9 399.0H125.2" stroke="#999" stroke-width="0.5"/>
<text x="144.6" y="416.6" font-size="6.6" font-weight="bold" text-anchor="middle" fill="#000">0</text>
<text x="168.9" y="416.6" font-size="6.6" font-weight="bold" text-anchor="middle" fill="#000">1</text>
<text x="83.0" y="409.5" font-size="7.0" font-weight="bold" text-anchor="end" fill="#000" transform="rotate(-45 83.0 409.5)">HA-TP</text>
<text x="112.0" y="410.0" font-size="7.0" font-weight="bold" text-anchor="end" fill="#000" transform="rotate(-45 112.0 410.0)">HA-CA</text>
<text x="194.9" y="318.2" font-size="5.5" font-weight="bold" fill="#000">Value</text>
<rect x="193.1" y="322.8" width="5.7" height="27.1" fill="url(#hmleg)"/>
<text x="205.0" y="330.2" font-size="5.6" font-weight="bold" fill="#000">0.4</text>
<text x="205.0" y="339.0" font-size="5.6" font-weight="bold" fill="#000">0</text>
<text x="204.1" y="348.0" font-size="5.6" font-weight="bold" fill="#000">-0.4</text>
<text x="226.6" y="236.2" font-size="12.5" font-weight="bold" fill="#000">e</text>
<rect x="246.1" y="239.7" width="195.1" height="92.9" rx="6" ry="6" fill="none" stroke="#f3b0dc" stroke-width="1.8" stroke-dasharray="4.8 2.1"/>
<rect x="239.9" y="232.0" width="92.9" height="21.0" rx="3" ry="3" fill="#f5b8df"/>
<text x="285.6" y="240.6" font-size="6.9" font-weight="bold" text-anchor="middle" fill="#000">Chondrogenic-related</text>
<text x="285.3" y="248.8" font-size="6.9" font-weight="bold" text-anchor="middle" fill="#000">transcription factor genes</text>
<rect x="399.1" y="250.9" width="9.9" height="63.4" fill="#d9d9d9"/>
<text x="258.3" y="265.3" font-size="6.9" font-weight="bold" fill="#000">[0-18]</text>
<text x="281.4" y="270.4" font-size="6.9" font-weight="bold" fill="#f89090">HA-TP</text>
<text x="281.7" y="298.2" font-size="6.9" font-weight="bold" fill="#5ccaf3">HA-CA</text>
<text x="365.7" y="260.0" font-size="6.9" font-weight="bold" fill="#000">Promoter</text>
<line x1="405.0" y1="249.0" x2="431.5" y2="249.0" stroke="#222" stroke-width="1.3"/>
<text x="412.0" y="246.4" font-size="6.9" font-weight="bold" fill="#000">1 kb</text>
<path d="M257.50 283.40V282.51H258.25V282.54H259.00V282.67H259.75V282.51H260.50V282.52H261.25V282.55H262.00V283.40ZM264.25 283.40V281.42H265.00V281.35H265.75V281.19H266.50V281.10H267.25V280.20H268.00V280.08H268.75V279.60H269.50V280.20H270.25V279.78H271.00V278.67H271.75V279.84H272.50V279.65H273.25V278.88H274.00V278.63H274.75V277.67H275.50V277.31H276.25V277.92H277.00V276.93H277.75V277.07H278.50V278.00H279.25V278.62H280.00V279.92H280.75V280.68H281.50V281.77H282.25V283.40ZM286.75 283.40V280.82H287.50V281.15H288.25V281.24H289.00V281.58H289.75V283.40ZM292.75 283.40V281.68H293.50V281.66H294.25V282.16H295.00V282.22H295.75V282.18H296.50V282.18H297.25V283.40ZM300.25 283.40V280.67H301.00V280.70H301.75V280.83H302.50V280.78H303.25V281.39H304.00V283.40ZM306.25 283.40V282.47H307.00V282.51H307.75V282.19H308.50V282.34H309.25V282.17H310.00V281.63H310.75V281.55H311.50V281.88H312.25V281.43H313.00V281.72H313.75V281.18H314.50V281.36H315.25V281.99H316.00V282.37H316.75V283.40ZM320.50 283.40V280.36H321.25V279.63H322.00V279.30H322.75V279.82H323.50V278.97H324.25V277.31H325.00V277.25H325.75V277.11H326.50V277.14H327.25V278.56H328.00V277.43H328.75V278.17H329.50V278.02H330.25V277.74H331.00V278.84H331.75V277.98H332.50V278.93H333.25V278.28H334.00V278.84H334.75V283.40ZM335.50 283.40V278.47H336.25V278.29H337.00V279.36H337.75V278.79H338.50V277.57H339.25V278.56H340.00V276.90H340.75V277.05H341.50V278.22H342.25V277.81H343.00V276.90H343.75V278.84H344.50V277.30H345.25V277.49H346.00V278.61H346.75V283.40ZM351.25 283.40V280.18H352.00V279.62H352.75V278.85H353.50V278.31H354.25V278.53H355.00V277.76H355.75V278.52H356.50V278.24H357.25V278.51H358.00V279.59H358.75V278.83H359.50V279.11H360.25V279.10H361.00V277.01H361.75V276.12H362.50V277.26H363.25V276.30H364.00V273.79H364.75V272.80H365.50V273.95H366.25V273.96H367.00V269.58H367.75V272.48H368.50V273.10H369.25V272.87H370.00V273.36H370.75V276.84H371.50V281.43H372.25V282.01H373.00V281.58H373.75V281.88H374.50V281.65H375.25V282.01H376.00V281.90H376.75V281.77H377.50V281.75H378.25V282.05H379.00V281.78H379.75V281.86H380.50V282.05H381.25V282.24H382.00V282.13H382.75V283.40ZM385.75 283.40V280.42H386.50V280.82H387.25V279.66H388.00V279.16H388.75V279.04H389.50V278.95H390.25V278.11H391.00V277.88H391.75V277.85H392.50V277.99H393.25V276.93H394.00V277.06H394.75V278.08H395.50V278.13H396.25V277.70H397.00V278.37H397.75V278.76H398.50V283.40ZM399.25 283.40V278.03H400.00V272.94H400.75V267.92H401.50V267.52H402.25V260.30H403.00V265.58H403.75V262.19H404.50V269.44H405.25V272.57H406.00V276.57H406.75V278.18H407.50V281.54H408.25V283.40ZM412.00 283.40V277.56H412.75V278.46H413.50V278.98H414.25V279.45H415.00V279.28H415.75V279.28H416.50V279.06H417.25V278.94H418.00V277.32H418.75V277.78H419.50V278.84H420.25V279.30H421.00V279.10H421.75V280.24H422.50V280.88H423.25V281.15H424.00V281.74H424.75V281.79H425.50V282.09H426.25V282.14H427.00V281.92H427.75V282.15H428.50V282.35H429.25V282.28H430.00V282.20H430.75V282.03H431.50V283.40Z" fill="#fc8f8f"/>
<path d="M267.25 314.40V311.74H268.00V311.92H268.75V311.93H269.50V311.47H270.25V311.40H271.00V311.65H271.75V311.57H272.50V312.08H273.25V311.96H274.00V311.86H274.75V311.82H275.50V311.93H276.25V311.47H277.00V311.71H277.75V310.78H278.50V308.46H279.25V314.40ZM282.25 314.40V306.77H283.00V306.93H283.75V303.36H284.50V306.48H285.25V306.75H286.00V308.23H286.75V310.34H287.50V314.40ZM297.25 314.40V309.81H298.00V309.12H298.75V309.97H299.50V308.48H300.25V307.02H301.00V308.62H301.75V308.13H302.50V306.46H303.25V307.67H304.00V307.71H304.75V308.59H305.50V309.71H306.25V310.76H307.00V314.40ZM310.75 314.40V309.97H311.50V306.26H312.25V303.80H313.00V305.63H313.75V305.71H314.50V307.41H315.25V309.39H316.00V314.40ZM322.00 314.40V309.92H322.75V309.27H323.50V308.25H324.25V309.01H325.00V309.72H325.75V310.36H326.50V310.41H327.25V310.76H328.00V312.31H328.75V312.77H329.50V312.76H330.25V312.44H331.00V312.49H331.75V312.56H332.50V312.65H333.25V314.40ZM335.50 314.40V311.84H336.25V310.92H337.00V309.81H337.75V310.37H338.50V309.10H339.25V309.54H340.00V309.55H340.75V310.30H341.50V310.71H342.25V311.63H343.00V311.43H343.75V314.40ZM347.50 314.40V310.73H348.25V309.22H349.00V309.17H349.75V306.90H350.50V306.27H351.25V306.91H352.00V308.35H352.75V308.01H353.50V309.42H354.25V309.83H355.00V313.46H355.75V314.40ZM357.25 314.40V313.29H358.00V309.85H358.75V307.46H359.50V307.70H360.25V303.87H361.00V305.39H361.75V302.03H362.50V302.24H363.25V305.08H364.00V306.42H364.75V304.40H365.50V305.75H366.25V307.69H367.00V307.02H367.75V307.34H368.50V307.56H369.25V308.15H370.00V309.57H370.75V310.69H371.50V311.07H372.25V310.67H373.00V310.66H373.75V311.37H374.50V311.71H375.25V311.08H376.00V310.03H376.75V308.75H377.50V309.69H378.25V310.05H379.00V310.71H379.75V314.40ZM382.75 314.40V311.56H383.50V312.24H384.25V312.18H385.00V311.48H385.75V311.58H386.50V314.40ZM391.00 314.40V311.73H391.75V309.98H392.50V310.21H393.25V309.84H394.00V310.92H394.75V311.69H395.50V314.40ZM401.50 314.40V309.33H402.25V306.73H403.00V303.95H403.75V303.07H404.50V303.24H405.25V304.05H406.00V308.19H406.75V308.04H407.50V308.93H408.25V314.40ZM419.50 314.40V311.71H420.25V312.28H421.00V311.82H421.75V311.89H422.50V314.40ZM424.75 314.40V312.21H425.50V312.26H426.25V312.03H427.00V311.69H427.75V311.85H428.50V312.19H429.25V311.09H430.00V309.50H430.75V308.86H431.50V308.89H432.25V314.40Z" fill="#33c6f6"/>
<line x1="257.5" y1="314.7" x2="431.9" y2="314.7" stroke="#c9eefb" stroke-width="0.5"/>
<line x1="257.5" y1="320.6" x2="382.6" y2="320.6" stroke="#3a3a3a" stroke-width="1.0"/>
<line x1="384.2" y1="320.6" x2="385.2" y2="320.6" stroke="#3a3a3a" stroke-width="1.0"/>
<line x1="386.6" y1="320.6" x2="394.6" y2="320.6" stroke="#3a3a3a" stroke-width="1.0"/>
<text x="321.0" y="329.7" font-size="6.9" font-weight="bold" font-style="italic" text-anchor="middle" fill="#000">Sox5</text>
<rect x="247.2" y="357.7" width="194.7" height="93.4" rx="7" ry="7" fill="none" stroke="#b4b4f6" stroke-width="1.8" stroke-dasharray="4.8 2.1"/>
<rect x="241.6" y="341.6" width="92.9" height="21.0" rx="3" ry="3" fill="#bdbdf8"/>
<text x="250.7" y="354.6" font-size="6.9" font-weight="bold" fill="#000">Hypoxia-related genes</text>
<rect x="335.0" y="368.2" width="36.7" height="57.9" fill="#d9d9d9"/>
<text x="256.8" y="370.8" font-size="6.9" font-weight="bold" fill="#000">[0-9.52]</text>
<text x="315.0" y="375.7" font-size="6.9" font-weight="bold" fill="#000">Promoter</text>
<line x1="401.4" y1="370.4" x2="431.6" y2="370.4" stroke="#222" stroke-width="1.3"/>
<text x="406.6" y="367.6" font-size="6.9" font-weight="bold" fill="#000">0.3 kb</text>
<text x="394.9" y="383.8" font-size="6.9" font-weight="bold" fill="#f89090">HA-TP</text>
<text x="395.8" y="417.3" font-size="6.9" font-weight="bold" fill="#5ccaf3">HA-CA</text>
<path d="M260.70 401.70V382.89H261.45V383.90H262.20V382.88H262.95V381.41H263.70V378.86H264.45V379.79H265.20V379.67H265.95V378.36H266.70V378.56H267.45V377.64H268.20V377.22H268.95V378.67H269.70V379.81H270.45V377.29H271.20V379.99H271.95V376.84H272.70V376.62H273.45V378.24H274.20V384.24H274.95V385.21H275.70V387.95H276.45V387.05H277.20V385.54H277.95V386.19H278.70V386.68H279.45V385.68H280.20V387.37H280.95V384.87H281.70V384.97H282.45V387.66H283.20V386.29H283.95V389.00H284.70V387.54H285.45V387.86H286.20V387.32H286.95V387.75H287.70V387.04H288.45V386.82H289.20V389.05H289.95V387.27H290.70V388.84H291.45V387.30H292.20V389.54H292.95V389.32H293.70V388.91H294.45V388.98H295.20V388.47H295.95V389.99H296.70V391.03H297.45V391.64H298.20V392.42H298.95V391.14H299.70V392.65H300.45V392.56H301.20V391.51H301.95V391.42H302.70V391.59H303.45V391.46H304.20V392.83H304.95V391.47H305.70V390.92H306.45V390.99H307.20V392.16H307.95V392.13H308.70V389.27H309.45V389.23H310.20V389.36H310.95V389.88H311.70V388.53H312.45V389.44H313.20V389.27H313.95V389.43H314.70V388.34H315.45V388.30H316.20V388.65H316.95V390.23H317.70V388.59H318.45V389.21H319.20V388.45H319.95V388.11H320.70V388.25H321.45V390.20H322.20V390.27H322.95V389.41H323.70V390.35H324.45V390.50H325.20V391.27H325.95V391.60H326.70V390.54H327.45V393.42H328.20V394.82H328.95V395.06H329.70V395.52H330.45V394.92H331.20V394.77H331.95V394.61H332.70V395.51H333.45V394.52H334.20V394.44H334.95V393.90H335.70V390.42H336.45V386.43H337.20V384.66H337.95V380.87H338.70V380.53H339.45V379.74H340.20V380.22H340.95V379.55H341.70V379.52H342.45V380.61H343.20V384.31H343.95V386.19H344.70V386.77H345.45V387.02H346.20V386.93H346.95V389.51H347.70V388.64H348.45V389.70H349.20V388.63H349.95V389.45H350.70V391.40H351.45V391.75H352.20V392.38H352.95V391.77H353.70V391.45H354.45V391.82H355.20V392.48H355.95V391.37H356.70V391.86H357.45V391.41H358.20V392.46H358.95V391.16H359.70V392.34H360.45V392.77H361.20V390.74H361.95V391.53H362.70V391.44H363.45V391.75H364.20V390.89H364.95V390.16H365.70V390.67H366.45V392.20H367.20V392.25H367.95V390.84H368.70V391.01H369.45V391.23H370.20V391.38H370.95V392.23H371.70V398.25H372.45V398.72H373.20V398.56H373.95V398.24H374.70V398.48H375.45V398.35H376.20V398.45H376.95V398.29H377.70V391.40H378.45V391.48H379.20V391.85H379.95V392.57H380.70V392.28H381.45V391.51H382.20V392.71H382.95V393.11H383.70V392.93H384.45V393.02H385.20V391.85H385.95V392.69H386.70V392.29H387.45V393.62H388.20V392.81H388.95V393.86H389.70V393.30H390.45V394.19H391.20V393.76H391.95V393.65H392.70V399.81H393.45V399.78H394.20V400.01H394.95V399.77H395.70V399.85H396.45V401.70ZM397.20 401.70V400.14H397.95V400.29H398.70V400.02H399.45V400.16H400.20V400.13H400.95V400.20H401.70V400.29H402.45V400.07H403.20V400.19H403.95V400.13H404.70V400.14H405.45V396.53H406.20V397.22H406.95V397.41H407.70V396.74H408.45V396.71H409.20V397.43H409.95V396.55H410.70V396.53H411.45V396.53H412.20V397.22H412.95V397.16H413.70V396.83H414.45V397.00H415.20V396.51H415.95V397.03H416.70V396.82H417.45V396.90H418.20V396.77H418.95V396.79H419.70V396.63H420.45V396.52H421.20V396.82H421.95V396.65H422.70V397.09H423.45V397.22H424.20V397.11H424.95V396.84H425.70V396.64H426.45V396.77H427.20V396.87H427.95V397.02H428.70V397.39H429.45V396.54H430.20V396.86H430.95V401.70Z" fill="#fc8f8f"/>
<path d="M260.70 431.60V427.29H261.45V426.47H262.20V426.41H262.95V427.33H263.70V426.50H264.45V426.46H265.20V426.94H265.95V429.40H266.70V429.66H267.45V429.36H268.20V429.69H268.95V429.39H269.70V429.51H270.45V429.68H271.20V429.55H271.95V429.67H272.70V429.56H273.45V429.31H274.20V429.65H274.95V431.60ZM297.45 431.60V430.37H298.20V426.41H298.95V426.31H299.70V426.99H300.45V426.68H301.20V427.09H301.95V426.90H302.70V427.12H303.45V426.66H304.20V426.81H304.95V426.71H305.70V426.37H306.45V421.53H307.20V419.16H307.95V419.63H308.70V419.65H309.45V419.65H310.20V419.52H310.95V421.99H311.70V422.22H312.45V421.31H313.20V421.14H313.95V421.93H314.70V421.12H315.45V422.81H316.20V426.60H316.95V426.61H317.70V426.50H318.45V426.77H319.20V427.07H319.95V426.41H320.70V426.47H321.45V426.68H322.20V426.40H322.95V426.70H323.70V426.60H324.45V426.06H325.20V425.94H325.95V425.34H326.70V424.41H327.45V424.82H328.20V422.06H328.95V421.26H329.70V421.21H330.45V422.40H331.20V422.46H331.95V421.43H332.70V421.20H333.45V420.69H334.20V422.32H334.95V420.80H335.70V419.57H336.45V416.86H337.20V416.28H337.95V416.36H338.70V415.94H339.45V415.64H340.20V416.88H340.95V417.74H341.70V417.24H342.45V415.96H343.20V417.39H343.95V415.66H344.70V416.51H345.45V424.38H346.20V424.56H346.95V423.75H347.70V424.42H348.45V423.81H349.20V423.85H349.95V423.95H350.70V424.69H351.45V424.23H352.20V425.45H352.95V426.30H353.70V426.17H354.45V425.82H355.20V426.32H355.95V426.35H356.70V426.06H357.45V426.49H358.20V425.45H358.95V425.88H359.70V426.02H360.45V425.66H361.20V425.48H361.95V426.04H362.70V425.71H363.45V425.51H364.20V425.30H364.95V426.36H365.70V425.54H366.45V425.30H367.20V425.37H367.95V425.38H368.70V426.13H369.45V425.27H370.20V425.35H370.95V425.17H371.70V415.82H372.45V412.64H373.20V412.03H373.95V414.80H374.70V416.77H375.45V417.60H376.20V415.86H376.95V416.89H377.70V418.60H378.45V416.70H379.20V417.28H379.95V418.26H380.70V418.24H381.45V420.19H382.20V421.32H382.95V422.03H383.70V422.99H384.45V424.26H385.20V425.58H385.95V426.73H386.70V428.41H387.45V431.60ZM412.95 431.60V421.76H413.70V423.15H414.45V422.62H415.20V421.64H415.95V422.33H416.70V422.53H417.45V421.63H418.20V422.31H418.95V421.62H419.70V422.87H420.45V421.60H421.20V422.59H421.95V422.65H422.70V419.98H423.45V418.27H424.20V418.90H424.95V417.89H425.70V418.27H426.45V420.10H427.20V420.35H427.95V419.00H428.70V420.07H429.45V421.08H430.20V420.56H430.95V431.60Z" fill="#33c6f6"/>
<line x1="260.7" y1="431.9" x2="431.0" y2="431.9" stroke="#c9eefb" stroke-width="0.5"/>
<line x1="260.7" y1="438.4" x2="431.0" y2="438.4" stroke="#999" stroke-width="0.6"/>
<path d="M260.7 437.6v1.6M265.2 437.6v1.6M269.7 437.6v1.6M274.2 437.6v1.6M278.7 437.6v1.6M283.2 437.6v1.6M287.7 437.6v1.6M292.2 437.6v1.6M296.7 437.6v1.6M301.2 437.6v1.6M305.7 437.6v1.6M310.2 437.6v1.6M314.7 437.6v1.6M319.2 437.6v1.6M323.7 437.6v1.6M328.2 437.6v1.6M332.7 437.6v1.6M337.2 437.6v1.6M341.7 437.6v1.6M346.2 437.6v1.6M350.7 437.6v1.6M355.2 437.6v1.6M359.7 437.6v1.6M364.2 437.6v1.6M368.7 437.6v1.6M373.2 437.6v1.6M377.7 437.6v1.6M382.2 437.6v1.6M386.7 437.6v1.6M391.2 437.6v1.6M395.7 437.6v1.6M400.2 437.6v1.6M404.7 437.6v1.6M409.2 437.6v1.6M413.7 437.6v1.6M418.2 437.6v1.6M422.7 437.6v1.6M427.2 437.6v1.6" stroke="#aaa" stroke-width="0.4"/>
<rect x="280.0" y="437.5" width="23.4" height="1.8" fill="#555"/>
<text x="336.7" y="447.3" font-size="6.9" font-weight="bold" font-style="italic" fill="#000">HIF1A</text>
<text x="461.6" y="236.2" font-size="12.5" font-weight="bold" fill="#000">g</text>
<text x="474.2" y="266.4" font-size="6.9" font-weight="bold" fill="#000">GO Term</text>
<line x1="554.6" y1="267.5" x2="554.6" y2="410.6" stroke="#c4c4c4" stroke-width="0.8"/>
<line x1="554.2" y1="410.4" x2="640.4" y2="410.4" stroke="#c4c4c4" stroke-width="0.8"/>
<text x="554.4" y="279.3" font-size="5.55" font-weight="bold" text-anchor="end" fill="#000">Response to hypoxia</text>
<text x="552.0" y="285.9" font-size="5.55" font-weight="bold" text-anchor="end" fill="#000">Cell-cell adhesion</text>
<text x="554.4" y="292.4" font-size="5.55" font-weight="bold" text-anchor="end" fill="#000">Cadherin binding</text>
<text x="554.4" y="299.0" font-size="5.55" font-weight="bold" text-anchor="end" fill="#000">IGF binding</text>
<text x="554.4" y="305.6" font-size="5.55" font-weight="bold" text-anchor="end" fill="#000">Cartilage development</text>
<text x="554.4" y="312.2" font-size="5.55" font-weight="bold" text-anchor="end" fill="#000">Chondrocyte differentiation</text>
<text x="463.5" y="318.7" font-size="5.55" font-weight="bold" fill="#000">Positive regulation of chondrocyte differentiation</text>
<text x="554.4" y="325.3" font-size="5.55" font-weight="bold" text-anchor="end" fill="#000">Chondrocyte proliferation</text>
<text x="554.4" y="331.9" font-size="5.55" font-weight="bold" text-anchor="end" fill="#000">IGF receptor signaling pathway</text>
<text x="554.4" y="338.4" font-size="5.55" font-weight="bold" text-anchor="end" fill="#000">Hyaluronic acid binding</text>
<text x="463.5" y="345.0" font-size="5.55" font-weight="bold" fill="#000">Glycosaminoglycan biosynthetic process</text>
<text x="463.5" y="351.6" font-size="5.55" font-weight="bold" fill="#000">Positive regulation of cartilage development</text>
<text x="554.4" y="358.1" font-size="5.55" font-weight="bold" text-anchor="end" fill="#000">Proteoglycan binding</text>
<text x="554.4" y="364.7" font-size="5.55" font-weight="bold" text-anchor="end" fill="#000">Cellular response to hypoxia</text>
<text x="463.5" y="371.3" font-size="5.55" font-weight="bold" fill="#000">Cadherin binding involved in cell-cell adhesion</text>
<text x="554.4" y="377.9" font-size="5.55" font-weight="bold" text-anchor="end" fill="#000">Glycosaminoglycan binding</text>
<text x="554.4" y="384.4" font-size="5.55" font-weight="bold" text-anchor="end" fill="#000">Cartilage condensation</text>
<text x="554.4" y="391.0" font-size="5.55" font-weight="bold" text-anchor="end" fill="#000">Chondrocyte development</text>
<text x="554.4" y="397.6" font-size="5.55" font-weight="bold" text-anchor="end" fill="#000">Regulation of TGFβ activation</text>
<text x="554.4" y="404.1" font-size="5.55" font-weight="bold" text-anchor="end" fill="#000">IGF receptor binding</text>
<circle cx="583.1" cy="277.30" r="4.2" fill="#ee5f80"/>
<circle cx="578.2" cy="283.87" r="3.9" fill="#ee5f80"/>
<circle cx="568.7" cy="290.44" r="5.3" fill="#ee5f80"/>
<circle cx="627.5" cy="297.01" r="3.0" fill="#ee5f80"/>
<circle cx="589.8" cy="303.58" r="3.4" fill="#ee5f80"/>
<circle cx="592.3" cy="310.15" r="3.3" fill="#ee5f80"/>
<circle cx="616.0" cy="316.72" r="3.0" fill="#ee6282"/>
<circle cx="628.2" cy="323.29" r="3.0" fill="#ee6282"/>
<circle cx="619.4" cy="329.86" r="3.0" fill="#ee6383"/>
<circle cx="594.7" cy="336.43" r="3.0" fill="#ee6686"/>
<circle cx="583.5" cy="343.00" r="3.1" fill="#ee6888"/>
<circle cx="600.6" cy="349.57" r="3.0" fill="#ee6c8a"/>
<circle cx="605.6" cy="356.14" r="3.0" fill="#ee6c8b"/>
<circle cx="566.8" cy="362.71" r="3.8" fill="#ee7090"/>
<circle cx="596.0" cy="369.28" r="3.0" fill="#ee7190"/>
<circle cx="586.1" cy="375.85" r="3.0" fill="#f0849e"/>
<circle cx="588.8" cy="382.42" r="3.0" fill="#f3a2b4"/>
<circle cx="593.6" cy="388.99" r="3.0" fill="#f6cad4"/>
<circle cx="622.3" cy="395.56" r="3.0" fill="#50cbf4"/>
<circle cx="584.4" cy="402.13" r="3.0" fill="#35c2f6"/>
<text x="555.9" y="416.0" font-size="3.6" text-anchor="middle" fill="#777">0.2</text>
<text x="571.7" y="416.0" font-size="3.6" text-anchor="middle" fill="#777">0.3</text>
<text x="588.1" y="416.0" font-size="3.6" text-anchor="middle" fill="#777">0.4</text>
<text x="605.2" y="416.0" font-size="3.6" text-anchor="middle" fill="#777">0.5</text>
<text x="622.3" y="416.0" font-size="3.6" text-anchor="middle" fill="#777">0.6</text>
<text x="638.5" y="416.0" font-size="3.6" text-anchor="middle" fill="#777">0.7</text>
<text x="597.7" y="424.6" font-size="5.4" font-weight="bold" text-anchor="middle" fill="#000">Rich Factor</text>
<text x="645.9" y="297.4" font-size="5.4" font-weight="bold" fill="#000">Gene Number</text>
<circle cx="652.1" cy="305.5" r="3.5" fill="#333"/>
<text x="661.4" y="306.9" font-size="3.8" fill="#555">20</text>
<circle cx="652.1" cy="314.8" r="4.0" fill="#333"/>
<text x="661.4" y="316.2" font-size="3.8" fill="#555">40</text>
<circle cx="652.1" cy="325.5" r="4.5" fill="#333"/>
<text x="661.4" y="326.9" font-size="3.8" fill="#555">60</text>
<circle cx="652.1" cy="337.9" r="5.3" fill="#333"/>
<text x="661.4" y="339.3" font-size="3.8" fill="#555">80</text>
<text x="645.9" y="355.1" font-size="5.4" font-weight="bold" fill="#000">P.value</text>
<rect x="645.9" y="359.0" width="5.1" height="27.0" fill="url(#pleg)"/>
<text x="653.9" y="366.4" font-size="3.6" fill="#666">0.01</text>
<text x="653.9" y="372.8" font-size="3.6" fill="#666">0.02</text>
<text x="653.9" y="378.9" font-size="3.6" fill="#666">0.03</text>
<text x="653.9" y="384.9" font-size="3.6" fill="#666">0.04</text>
<text x="2.7" y="463.9" font-size="12.5" font-weight="bold" fill="#000">f</text>
<rect x="24.1" y="474.0" width="660.0" height="93.2" rx="8" ry="8" fill="none" stroke="#bbdb98" stroke-width="1.8" stroke-dasharray="4.8 2.1"/>
<rect x="15.0" y="461.5" width="164.9" height="21.0" rx="3" ry="3" fill="#c7e2aa"/>
<text x="20.4" y="475.0" font-size="6.9" font-weight="bold" fill="#000">Chondrocyte extracellular matrix-related genes</text>
<rect x="188.2" y="486.6" width="9.7" height="62.6" fill="#d9d9d9"/>
<text x="32.9" y="498.8" font-size="6.9" font-weight="bold" fill="#000">[0-18]</text>
<text x="58.6" y="503.9" font-size="6.9" font-weight="bold" fill="#f89090">HA-TP</text>
<text x="58.6" y="535.1" font-size="6.9" font-weight="bold" fill="#5ccaf3">HA-CA</text>
<text x="147.0" y="493.7" font-size="6.9" font-weight="bold" fill="#000">Promoter</text>
<line x1="182.3" y1="486.6" x2="205.9" y2="486.6" stroke="#222" stroke-width="1.3"/>
<text x="187.8" y="483.7" font-size="6.9" font-weight="bold" fill="#000">2 kb</text>
<path d="M33.30 519.30V515.33H34.00V518.78H34.70V517.11H35.40V517.34H36.10V517.50H36.80V519.30ZM39.60 519.30V505.88H40.30V514.41H41.00V514.69H41.70V514.80H42.40V516.58H43.10V515.55H43.80V515.77H44.50V516.88H45.20V519.30ZM45.90 519.30V517.49H46.60V515.18H47.30V517.16H48.00V517.71H48.70V517.93H49.40V517.17H50.10V517.65H50.80V517.94H51.50V517.26H52.20V517.73H52.90V519.30ZM53.60 519.30V513.39H54.30V518.57H55.00V515.36H55.70V513.65H56.40V514.17H57.10V513.91H57.80V510.87H58.50V514.06H59.20V516.11H59.90V516.07H60.60V514.86H61.30V512.65H62.00V510.80H62.70V515.22H63.40V515.40H64.10V516.14H64.80V515.65H65.50V515.79H66.20V515.36H66.90V516.38H67.60V519.30ZM69.70 519.30V515.94H70.40V515.04H71.10V515.25H71.80V515.76H72.50V515.77H73.20V514.17H73.90V514.32H74.60V514.35H75.30V514.22H76.00V513.96H76.70V512.18H77.40V510.30H78.10V508.38H78.80V508.21H79.50V510.26H80.20V510.67H80.90V519.30ZM81.60 519.30V514.88H82.30V516.26H83.00V516.14H83.70V516.47H84.40V519.30ZM87.20 519.30V515.38H87.90V515.74H88.60V516.26H89.30V515.65H90.00V516.04H90.70V516.54H91.40V515.33H92.10V514.67H92.80V514.14H93.50V518.37H94.20V513.90H94.90V517.52H95.60V514.41H96.30V514.93H97.00V514.96H97.70V517.10H98.40V514.06H99.10V512.81H99.80V505.33H100.50V514.04H101.20V514.48H101.90V515.38H102.60V515.38H103.30V515.29H104.00V514.94H104.70V519.30ZM107.50 519.30V516.64H108.20V516.71H108.90V517.22H109.60V516.83H110.30V518.51H111.00V517.06H111.70V517.03H112.40V517.50H113.10V518.76H113.80V519.30ZM115.20 519.30V517.53H115.90V517.96H116.60V517.87H117.30V517.89H118.00V517.75H118.70V518.03H119.40V518.90H120.10V519.30ZM122.20 519.30V512.62H122.90V513.81H123.60V513.07H124.30V514.02H125.00V515.75H125.70V516.70H126.40V516.56H127.10V517.02H127.80V516.96H128.50V518.25H129.20V519.30ZM130.60 519.30V513.72H131.30V511.01H132.00V517.31H132.70V517.28H133.40V512.81H134.10V518.60H134.80V517.36H135.50V517.81H136.20V517.43H136.90V519.30ZM138.30 519.30V516.07H139.00V515.46H139.70V509.17H140.40V515.81H141.10V517.32H141.80V514.90H142.50V513.65H143.20V513.65H143.90V515.47H144.60V514.64H145.30V517.89H146.00V513.38H146.70V513.61H147.40V513.83H148.10V513.35H148.80V508.83H149.50V511.86H150.20V510.79H150.90V513.33H151.60V513.20H152.30V512.62H153.00V504.00H153.70V516.93H154.40V513.40H155.10V513.57H155.80V514.28H156.50V513.00H157.20V514.15H157.90V517.48H158.60V513.90H159.30V513.37H160.00V517.72H160.70V513.26H161.40V513.20H162.10V513.84H162.80V513.35H163.50V509.93H164.20V514.11H164.90V515.29H165.60V514.63H166.30V514.98H167.00V514.92H167.70V517.00H168.40V514.00H169.10V514.28H169.80V512.65H170.50V514.48H171.20V513.18H171.90V512.31H172.60V514.35H173.30V514.03H174.00V513.43H174.70V511.89H175.40V512.68H176.10V513.64H176.80V511.72H177.50V512.19H178.20V511.64H178.90V513.00H179.60V503.21H180.30V510.12H181.00V509.50H181.70V508.62H182.40V508.87H183.10V509.40H183.80V508.54H184.50V507.33H185.20V505.00H185.90V505.50H186.60V505.33H187.30V505.46H188.00V517.16H188.70V501.80H189.40V498.83H190.10V498.16H190.80V500.28H191.50V495.48H192.20V507.18H192.90V504.65H193.60V506.40H194.30V512.45H195.00V510.41H195.70V512.88H196.40V513.99H197.10V519.30ZM203.40 519.30V518.81H204.10V517.94H204.80V517.98H205.50V519.30Z" fill="#fc8f8f"/>
<path d="M32.90 549.30V543.48H33.60V545.59H34.30V543.91H35.00V544.91H35.70V538.69H36.40V539.22H37.10V546.11H37.80V547.62H38.50V548.89H39.20V545.23H39.90V549.30ZM41.30 549.30V546.56H42.00V547.22H42.70V546.89H43.40V549.30ZM51.10 549.30V546.48H51.80V546.67H52.50V549.30ZM55.30 549.30V546.34H56.00V548.95H56.70V544.28H57.40V548.95H58.10V547.43H58.80V549.30ZM60.20 549.30V545.52H60.90V545.76H61.60V545.06H62.30V545.02H63.00V545.73H63.70V548.90H64.40V546.49H65.10V546.10H65.80V548.51H66.50V547.98H67.20V546.55H67.90V545.70H68.60V547.64H69.30V539.43H70.00V545.98H70.70V545.31H71.40V546.49H72.10V545.42H72.80V544.80H73.50V547.75H74.20V545.54H74.90V546.04H75.60V548.69H76.30V546.57H77.00V545.21H77.70V545.00H78.40V540.93H79.10V547.96H79.80V546.42H80.50V548.57H81.20V548.41H81.90V545.05H82.60V549.30ZM92.40 549.30V546.82H93.10V545.44H93.80V546.01H94.50V546.42H95.20V549.30ZM100.10 549.30V545.45H100.80V538.27H101.50V543.30H102.20V543.09H102.90V546.90H103.60V543.34H104.30V534.74H105.00V543.67H105.70V544.74H106.40V543.11H107.10V543.75H107.80V545.47H108.50V540.98H109.20V545.69H109.90V546.99H110.60V547.03H111.30V547.50H112.00V547.60H112.70V547.96H113.40V548.42H114.10V548.95H114.80V548.10H115.50V547.36H116.20V548.09H116.90V547.58H117.60V547.35H118.30V541.21H119.00V547.50H119.70V548.95H120.40V543.72H121.10V547.46H121.80V547.07H122.50V547.35H123.20V546.61H123.90V548.85H124.60V546.80H125.30V546.87H126.00V547.45H126.70V549.30ZM127.40 549.30V538.54H128.10V540.35H128.80V540.06H129.50V548.41H130.20V546.49H130.90V543.44H131.60V548.62H132.30V548.95H133.00V543.16H133.70V548.84H134.40V546.63H135.10V546.92H135.80V544.16H136.50V547.83H137.20V547.56H137.90V549.30ZM141.40 549.30V543.24H142.10V543.04H142.80V548.54H143.50V544.56H144.20V547.65H144.90V549.30ZM149.80 549.30V547.22H150.50V547.14H151.20V534.73H151.90V543.67H152.60V541.31H153.30V542.34H154.00V542.54H154.70V546.78H155.40V541.81H156.10V541.99H156.80V541.47H157.50V547.32H158.20V544.11H158.90V549.30ZM161.00 549.30V543.04H161.70V542.26H162.40V542.95H163.10V540.96H163.80V543.58H164.50V542.78H165.20V543.71H165.90V541.03H166.60V542.33H167.30V530.54H168.00V542.98H168.70V542.30H169.40V542.25H170.10V541.64H170.80V541.04H171.50V542.42H172.20V547.83H172.90V541.27H173.60V542.08H174.30V543.82H175.00V549.30ZM176.40 549.30V545.20H177.10V544.18H177.80V545.39H178.50V544.30H179.20V544.29H179.90V543.89H180.60V543.22H181.30V544.32H182.00V543.28H182.70V542.43H183.40V542.56H184.10V536.39H184.80V542.96H185.50V544.60H186.20V543.36H186.90V544.42H187.60V543.90H188.30V543.54H189.00V544.38H189.70V541.52H190.40V541.26H191.10V542.19H191.80V532.70H192.50V547.92H193.20V542.86H193.90V540.43H194.60V540.64H195.30V542.46H196.00V541.79H196.70V541.47H197.40V541.61H198.10V549.30ZM202.30 549.30V539.24H203.00V539.27H203.70V547.21H204.40V538.89H205.10V542.83H205.80V549.30Z" fill="#33c6f6"/>
<line x1="32.9" y1="549.6" x2="205.5" y2="549.6" stroke="#c9eefb" stroke-width="0.5"/>
<line x1="33.0" y1="555.8" x2="182.4" y2="555.8" stroke="#999" stroke-width="0.6"/>
<path d="M33.0 555.0v1.6M37.5 555.0v1.6M42.0 555.0v1.6M46.5 555.0v1.6M51.0 555.0v1.6M55.5 555.0v1.6M60.0 555.0v1.6M64.5 555.0v1.6M69.0 555.0v1.6M73.5 555.0v1.6M78.0 555.0v1.6M82.5 555.0v1.6M87.0 555.0v1.6M91.5 555.0v1.6M96.0 555.0v1.6M100.5 555.0v1.6M105.0 555.0v1.6M109.5 555.0v1.6M114.0 555.0v1.6M118.5 555.0v1.6M123.0 555.0v1.6M127.5 555.0v1.6M132.0 555.0v1.6M136.5 555.0v1.6M141.0 555.0v1.6M145.5 555.0v1.6M150.0 555.0v1.6M154.5 555.0v1.6M159.0 555.0v1.6M163.5 555.0v1.6M168.0 555.0v1.6M172.5 555.0v1.6M177.0 555.0v1.6M181.5 555.0v1.6" stroke="#aaa" stroke-width="0.4"/>
<text x="62.6" y="564.0" font-size="6.9" font-weight="bold" font-style="italic" fill="#000">HAPLN1</text>
<rect x="314.1" y="484.9" width="11.7" height="63.1" fill="#d9d9d9"/>
<text x="261.4" y="492.8" font-size="6.9" font-weight="bold" fill="#000">[0-13]</text>
<text x="329.7" y="489.3" font-size="6.9" font-weight="bold" fill="#000">Promoter</text>
<line x1="410.0" y1="489.6" x2="433.4" y2="489.6" stroke="#222" stroke-width="1.3"/>
<text x="415.0" y="485.8" font-size="6.9" font-weight="bold" fill="#000">1 kb</text>
<text x="345.8" y="498.5" font-size="6.9" font-weight="bold" fill="#f89090">HA-TP</text>
<text x="344.9" y="528.5" font-size="6.9" font-weight="bold" fill="#5ccaf3">HA-CA</text>
<path d="M262.20 517.50V513.90H262.90V513.64H263.60V514.19H264.30V514.15H265.00V514.43H265.70V514.52H266.40V516.42H267.10V516.05H267.80V516.34H268.50V516.30H269.20V516.01H269.90V516.01H270.60V516.42H271.30V516.35H272.00V512.56H272.70V512.38H273.40V513.25H274.10V511.94H274.80V512.80H275.50V511.76H276.20V514.10H276.90V513.25H277.60V513.91H278.30V514.34H279.00V514.19H279.70V517.50ZM281.80 517.50V511.42H282.50V511.50H283.20V511.93H283.90V512.37H284.60V511.43H285.30V511.47H286.00V514.47H286.70V512.85H287.40V512.42H288.10V512.98H288.80V512.50H289.50V512.78H290.20V504.12H290.90V502.54H291.60V502.32H292.30V495.44H293.00V492.58H293.70V492.97H294.40V498.89H295.10V497.53H295.80V501.10H296.50V507.28H297.20V509.25H297.90V517.50ZM300.00 517.50V514.35H300.70V514.49H301.40V515.02H302.10V514.46H302.80V514.41H303.50V515.10H304.20V514.71H304.90V514.72H305.60V514.86H306.30V514.86H307.00V515.35H307.70V515.37H308.40V515.87H309.10V512.90H309.80V515.94H310.50V515.60H311.20V515.44H311.90V515.96H312.60V517.50ZM314.70 517.50V509.89H315.40V506.99H316.10V507.78H316.80V505.85H317.50V499.50H318.20V494.22H318.90V500.34H319.60V497.94H320.30V500.09H321.00V500.50H321.70V500.30H322.40V503.98H323.10V504.21H323.80V508.39H324.50V509.45H325.20V508.93H325.90V508.07H326.60V508.90H327.30V509.01H328.00V510.34H328.70V510.37H329.40V497.13H330.10V508.17H330.80V508.58H331.50V508.18H332.20V508.34H332.90V509.32H333.60V509.87H334.30V508.01H335.00V497.67H335.70V510.23H336.40V508.45H337.10V509.76H337.80V509.45H338.50V510.32H339.20V508.57H339.90V510.50H340.60V510.92H341.30V510.40H342.00V509.30H342.70V510.92H343.40V510.32H344.10V509.35H344.80V511.56H345.50V511.92H346.20V511.49H346.90V511.26H347.60V511.56H348.30V511.46H349.00V511.13H349.70V513.03H350.40V512.13H351.10V512.71H351.80V517.50ZM353.20 517.50V507.51H353.90V509.88H354.60V508.11H355.30V509.48H356.00V514.00H356.70V512.79H357.40V513.27H358.10V513.58H358.80V512.78H359.50V513.71H360.20V507.09H360.90V508.03H361.60V510.74H362.30V508.89H363.00V512.26H363.70V513.22H364.40V508.43H365.10V513.38H365.80V513.84H366.50V514.08H367.20V513.84H367.90V514.30H368.60V514.39H369.30V514.54H370.00V515.65H370.70V515.43H371.40V515.71H372.10V515.66H372.80V517.50ZM374.20 517.50V511.99H374.90V511.93H375.60V512.19H376.30V512.91H377.00V510.90H377.70V512.26H378.40V517.50ZM384.70 517.50V515.29H385.40V515.01H386.10V515.47H386.80V515.79H387.50V515.72H388.20V515.25H388.90V517.50ZM389.60 517.50V512.18H390.30V513.62H391.00V512.89H391.70V513.43H392.40V517.50ZM395.90 517.50V511.74H396.60V512.07H397.30V512.67H398.00V512.90H398.70V513.71H399.40V513.79H400.10V517.50ZM406.40 517.50V514.88H407.10V515.11H407.80V515.12H408.50V510.73H409.20V513.83H409.90V514.94H410.60V514.45H411.30V514.97H412.00V514.87H412.70V513.83H413.40V517.50ZM419.70 517.50V514.27H420.40V513.45H421.10V512.77H421.80V512.16H422.50V512.34H423.20V512.14H423.90V511.58H424.60V510.73H425.30V512.51H426.00V512.86H426.70V514.12H427.40V514.30H428.10V513.55H428.80V513.79H429.50V514.05H430.20V515.26H430.90V517.50Z" fill="#fc8f8f"/>
<path d="M262.20 548.00V539.76H262.90V543.25H263.60V544.05H264.30V543.07H265.00V543.02H265.70V540.11H266.40V544.00H267.10V543.25H267.80V537.36H268.50V544.02H269.20V542.96H269.90V543.16H270.60V542.70H271.30V543.51H272.00V543.71H272.70V544.24H273.40V543.16H274.10V543.23H274.80V543.06H275.50V548.00ZM276.90 548.00V542.84H277.60V542.94H278.30V542.61H279.00V542.46H279.70V542.40H280.40V541.87H281.10V543.47H281.80V542.35H282.50V542.49H283.20V541.32H283.90V541.83H284.60V541.78H285.30V548.00ZM286.00 548.00V535.65H286.70V528.56H287.40V524.73H288.10V526.57H288.80V526.32H289.50V526.04H290.20V539.22H290.90V548.00ZM292.30 548.00V539.60H293.00V538.71H293.70V540.17H294.40V537.58H295.10V538.94H295.80V539.26H296.50V538.78H297.20V541.45H297.90V543.67H298.60V544.46H299.30V548.00ZM301.40 548.00V542.09H302.10V540.22H302.80V542.95H303.50V542.94H304.20V540.50H304.90V542.18H305.60V541.18H306.30V540.99H307.00V541.84H307.70V548.00ZM314.70 548.00V541.60H315.40V540.03H316.10V541.45H316.80V538.99H317.50V539.89H318.20V540.35H318.90V540.26H319.60V537.42H320.30V537.23H321.00V540.25H321.70V537.63H322.40V539.94H323.10V536.52H323.80V536.26H324.50V548.00ZM325.20 548.00V544.99H325.90V544.53H326.60V544.25H327.30V544.46H328.00V548.00ZM331.50 548.00V540.29H332.20V539.10H332.90V541.83H333.60V539.53H334.30V538.44H335.00V538.91H335.70V538.42H336.40V537.85H337.10V538.12H337.80V540.46H338.50V537.84H339.20V537.62H339.90V544.00H340.60V543.17H341.30V544.14H342.00V534.32H342.70V536.09H343.40V536.43H344.10V537.01H344.80V538.62H345.50V538.68H346.20V536.83H346.90V538.00H347.60V538.09H348.30V539.16H349.00V544.27H349.70V545.26H350.40V545.15H351.10V536.31H351.80V539.76H352.50V540.45H353.20V537.68H353.90V538.17H354.60V538.13H355.30V541.70H356.00V541.13H356.70V548.00ZM360.20 548.00V541.83H360.90V543.54H361.60V542.83H362.30V541.91H363.00V542.68H363.70V543.22H364.40V542.92H365.10V543.70H365.80V548.00ZM374.20 548.00V542.68H374.90V540.45H375.60V541.88H376.30V540.53H377.00V540.89H377.70V541.96H378.40V541.95H379.10V543.10H379.80V542.50H380.50V541.73H381.20V548.00ZM384.00 548.00V544.29H384.70V544.97H385.40V544.51H386.10V545.39H386.80V544.19H387.50V545.28H388.20V548.00ZM390.30 548.00V544.83H391.00V543.64H391.70V544.50H392.40V545.05H393.10V543.50H393.80V543.83H394.50V544.95H395.20V543.60H395.90V544.23H396.60V544.32H397.30V543.70H398.00V548.00ZM408.50 548.00V544.13H409.20V544.89H409.90V543.21H410.60V537.04H411.30V543.49H412.00V543.44H412.70V538.69H413.40V543.29H414.10V542.05H414.80V541.84H415.50V540.37H416.20V542.31H416.90V541.91H417.60V539.49H418.30V538.88H419.00V541.22H419.70V539.90H420.40V541.39H421.10V541.79H421.80V529.21H422.50V539.92H423.20V541.72H423.90V541.96H424.60V542.10H425.30V542.59H426.00V541.01H426.70V541.84H427.40V542.99H428.10V541.54H428.80V542.32H429.50V544.08H430.20V543.50H430.90V544.50H431.60V544.60H432.30V548.00Z" fill="#33c6f6"/>
<line x1="258.4" y1="548.3" x2="432.0" y2="548.3" stroke="#c9eefb" stroke-width="0.5"/>
<line x1="315.0" y1="554.6" x2="432.0" y2="554.6" stroke="#999" stroke-width="0.6"/>
<path d="M315.0 553.8v1.6M319.5 553.8v1.6M324.0 553.8v1.6M328.5 553.8v1.6M333.0 553.8v1.6M337.5 553.8v1.6M342.0 553.8v1.6M346.5 553.8v1.6M351.0 553.8v1.6M355.5 553.8v1.6M360.0 553.8v1.6M364.5 553.8v1.6M369.0 553.8v1.6M373.5 553.8v1.6M378.0 553.8v1.6M382.5 553.8v1.6M387.0 553.8v1.6M391.5 553.8v1.6M396.0 553.8v1.6M400.5 553.8v1.6M405.0 553.8v1.6M409.5 553.8v1.6M414.0 553.8v1.6M418.5 553.8v1.6M423.0 553.8v1.6M427.5 553.8v1.6M432.0 553.8v1.6" stroke="#aaa" stroke-width="0.4"/>
<rect x="305.5" y="553.6" width="9.5" height="2.0" fill="#555"/>
<path d="M303 554.6L306 553.2V556Z" fill="#555"/>
<text x="318.0" y="564.6" font-size="6.9" font-weight="bold" font-style="italic" fill="#000">CRTAP</text>
<rect x="511.4" y="485.0" width="16.3" height="63.5" fill="#d9d9d9"/>
<text x="480.9" y="490.7" font-size="6.9" font-weight="bold" fill="#000">[0-11]</text>
<text x="530.7" y="493.3" font-size="6.9" font-weight="bold" fill="#000">Promoter</text>
<line x1="624.2" y1="487.5" x2="654.0" y2="487.5" stroke="#222" stroke-width="1.3"/>
<text x="632.1" y="484.5" font-size="6.9" font-weight="bold" fill="#000">1 kb</text>
<text x="572.9" y="500.7" font-size="6.9" font-weight="bold" fill="#f89090">HA-TP</text>
<text x="572.9" y="535.2" font-size="6.9" font-weight="bold" fill="#5ccaf3">HA-CA</text>
<path d="M480.90 518.00V512.30H481.60V513.64H482.30V514.00H483.00V515.68H483.70V515.88H484.40V518.00ZM492.10 518.00V510.85H492.80V511.70H493.50V509.14H494.20V510.96H494.90V509.35H495.60V507.96H496.30V507.93H497.00V507.31H497.70V505.80H498.40V508.91H499.10V505.11H499.80V508.18H500.50V506.96H501.20V502.12H501.90V502.56H502.60V506.33H503.30V508.74H504.00V506.62H504.70V509.06H505.40V508.81H506.10V511.06H506.80V512.20H507.50V512.22H508.20V511.45H508.90V513.47H509.60V513.45H510.30V518.00ZM511.70 518.00V507.64H512.40V502.31H513.10V502.93H513.80V501.18H514.50V499.47H515.20V499.63H515.90V499.68H516.60V497.50H517.30V494.16H518.00V501.89H518.70V496.77H519.40V493.85H520.10V496.83H520.80V501.06H521.50V501.78H522.20V508.09H522.90V505.53H523.60V512.33H524.30V512.23H525.00V512.64H525.70V514.13H526.40V518.00ZM528.50 518.00V512.42H529.20V511.97H529.90V513.51H530.60V513.40H531.30V514.35H532.00V514.13H532.70V514.18H533.40V518.00ZM535.50 518.00V516.05H536.20V515.96H536.90V515.59H537.60V515.47H538.30V515.45H539.00V518.00ZM548.80 518.00V515.80H549.50V515.95H550.20V515.82H550.90V515.84H551.60V515.01H552.30V518.00ZM553.00 518.00V515.34H553.70V515.04H554.40V515.52H555.10V515.52H555.80V515.49H556.50V515.86H557.20V518.00ZM557.90 518.00V512.18H558.60V512.35H559.30V510.92H560.00V508.64H560.70V510.71H561.40V505.82H562.10V509.92H562.80V511.13H563.50V512.26H564.20V514.15H564.90V514.06H565.60V515.51H566.30V518.00ZM567.00 518.00V515.06H567.70V514.95H568.40V514.24H569.10V514.60H569.80V513.95H570.50V514.33H571.20V512.83H571.90V513.10H572.60V514.00H573.30V509.56H574.00V510.88H574.70V510.56H575.40V510.36H576.10V509.29H576.80V508.64H577.50V510.38H578.20V510.80H578.90V512.27H579.60V512.44H580.30V512.89H581.00V512.55H581.70V512.07H582.40V513.82H583.10V513.12H583.80V515.76H584.50V518.00ZM587.30 518.00V515.05H588.00V514.63H588.70V513.98H589.40V514.79H590.10V513.96H590.80V513.86H591.50V514.26H592.20V514.41H592.90V518.00ZM594.30 518.00V513.15H595.00V512.51H595.70V511.84H596.40V512.44H597.10V510.96H597.80V511.44H598.50V509.61H599.20V509.45H599.90V509.74H600.60V507.34H601.30V508.46H602.00V507.80H602.70V510.60H603.40V509.40H604.10V509.15H604.80V510.09H605.50V512.55H606.20V512.29H606.90V510.91H607.60V518.00ZM610.40 518.00V514.65H611.10V513.06H611.80V513.68H612.50V513.77H613.20V514.27H613.90V513.14H614.60V518.00ZM618.80 518.00V515.74H619.50V514.99H620.20V515.46H620.90V515.65H621.60V515.07H622.30V514.34H623.00V515.01H623.70V514.57H624.40V514.93H625.10V514.94H625.80V513.86H626.50V514.39H627.20V514.43H627.90V514.88H628.60V514.19H629.30V514.10H630.00V514.32H630.70V518.00ZM634.90 518.00V510.24H635.60V511.99H636.30V510.68H637.00V510.55H637.70V508.64H638.40V509.45H639.10V508.67H639.80V510.45H640.50V513.00H641.20V513.05H641.90V512.42H642.60V512.18H643.30V514.46H644.00V518.00ZM645.40 518.00V510.02H646.10V510.35H646.80V509.90H647.50V510.50H648.20V509.00H648.90V508.12H649.60V507.03H650.30V512.39H651.00V513.00H651.70V513.27H652.40V515.36H653.10V518.00Z" fill="#fc8f8f"/>
<path d="M494.80 548.50V542.86H495.50V541.53H496.20V542.42H496.90V542.04H497.60V542.79H498.30V546.62H499.00V546.86H499.70V546.54H500.40V546.90H501.10V546.63H501.80V546.54H502.50V546.60H503.20V548.50ZM510.20 548.50V543.76H510.90V542.67H511.60V542.50H512.30V541.62H513.00V541.14H513.70V540.73H514.40V540.30H515.10V539.86H515.80V533.56H516.50V528.62H517.20V525.34H517.90V525.96H518.60V526.27H519.30V526.96H520.00V524.96H520.70V534.57H521.40V537.72H522.10V539.26H522.80V541.06H523.50V542.02H524.20V542.48H524.90V542.51H525.60V542.91H526.30V543.45H527.00V544.56H527.70V544.69H528.40V544.52H529.10V544.30H529.80V544.01H530.50V544.00H531.20V544.52H531.90V548.50ZM541.00 548.50V544.05H541.70V544.13H542.40V544.04H543.10V544.17H543.80V544.36H544.50V544.49H545.20V544.99H545.90V544.91H546.60V545.25H547.30V545.30H548.00V545.54H548.70V545.82H549.40V548.50ZM555.70 548.50V542.65H556.40V540.88H557.10V541.47H557.80V540.47H558.50V539.62H559.20V537.89H559.90V539.03H560.60V539.47H561.30V539.15H562.00V540.92H562.70V542.10H563.40V542.78H564.10V543.85H564.80V548.50ZM580.20 548.50V544.39H580.90V544.54H581.60V544.03H582.30V548.50ZM585.80 548.50V544.53H586.50V544.07H587.20V544.59H587.90V544.79H588.60V544.25H589.30V544.03H590.00V544.02H590.70V548.50ZM593.50 548.50V546.67H594.20V546.54H594.90V546.77H595.60V546.71H596.30V546.66H597.00V546.74H597.70V540.47H598.40V540.60H599.10V539.67H599.80V540.13H600.50V540.36H601.20V538.77H601.90V539.51H602.60V540.01H603.30V538.06H604.00V537.50H604.70V537.25H605.40V538.41H606.10V536.26H606.80V548.50ZM608.90 548.50V539.94H609.60V538.85H610.30V539.89H611.00V540.21H611.70V540.11H612.40V538.73H613.10V548.50ZM634.10 548.50V542.59H634.80V542.29H635.50V543.09H636.20V542.27H636.90V542.13H637.60V542.40H638.30V542.05H639.00V542.18H639.70V542.82H640.40V542.30H641.10V542.14H641.80V543.19H642.50V542.23H643.20V548.50ZM646.00 548.50V539.99H646.70V539.72H647.40V539.43H648.10V539.64H648.80V548.50ZM653.70 548.50V543.09H654.40V543.46H655.10V548.50Z" fill="#33c6f6"/>
<line x1="481.3" y1="548.8" x2="655.3" y2="548.8" stroke="#c9eefb" stroke-width="0.5"/>
<line x1="481.3" y1="555.3" x2="655.3" y2="555.3" stroke="#999" stroke-width="0.6"/>
<path d="M481.3 554.5v1.6M485.8 554.5v1.6M490.3 554.5v1.6M494.8 554.5v1.6M499.3 554.5v1.6M503.8 554.5v1.6M508.3 554.5v1.6M512.8 554.5v1.6M517.3 554.5v1.6M521.8 554.5v1.6M526.3 554.5v1.6M530.8 554.5v1.6M535.3 554.5v1.6M539.8 554.5v1.6M544.3 554.5v1.6M548.8 554.5v1.6M553.3 554.5v1.6M557.8 554.5v1.6M562.3 554.5v1.6M566.8 554.5v1.6M571.3 554.5v1.6M575.8 554.5v1.6M580.3 554.5v1.6M584.8 554.5v1.6M589.3 554.5v1.6M593.8 554.5v1.6M598.3 554.5v1.6M602.8 554.5v1.6M607.3 554.5v1.6M611.8 554.5v1.6M616.3 554.5v1.6M620.8 554.5v1.6M625.3 554.5v1.6M629.8 554.5v1.6M634.3 554.5v1.6M638.8 554.5v1.6M643.3 554.5v1.6M647.8 554.5v1.6M652.3 554.5v1.6" stroke="#aaa" stroke-width="0.4"/>
<rect x="540.3" y="554.4" width="10.5" height="1.8" fill="#555"/>
<text x="542.6" y="564.2" font-size="6.9" font-weight="bold" font-style="italic" fill="#000">ACAN</text>
<rect x="22.2" y="586.7" width="659.8" height="99.2" rx="8" ry="8" fill="none" stroke="#f6bd88" stroke-width="1.8" stroke-dasharray="4.8 2.1"/>
<rect x="15.6" y="573.0" width="164.2" height="20.8" rx="3" ry="3" fill="#f6c08b"/>
<text x="27.5" y="586.3" font-size="6.9" font-weight="bold" fill="#000">Chondrogenic growth factors related genes</text>
<rect x="54.1" y="600.5" width="117.9" height="63.4" fill="#d9d9d9"/>
<text x="29.8" y="603.2" font-size="6.9" font-weight="bold" fill="#000">[0-12]</text>
<text x="135.4" y="608.0" font-size="6.9" font-weight="bold" fill="#000">Promoter</text>
<line x1="186.7" y1="600.5" x2="209.8" y2="600.5" stroke="#222" stroke-width="1.3"/>
<text x="189.0" y="598.4" font-size="6.9" font-weight="bold" fill="#000">0.5 kb</text>
<text x="177.1" y="616.9" font-size="6.9" font-weight="bold" fill="#f89090">HA-TP</text>
<text x="179.2" y="646.0" font-size="6.9" font-weight="bold" fill="#5ccaf3">HA-CA</text>
<path d="M33.50 633.30V621.25H34.20V622.08H34.90V623.67H35.60V625.06H36.30V625.35H37.00V626.54H37.70V626.30H38.40V626.31H39.10V626.69H39.80V625.90H40.50V625.94H41.20V627.20H41.90V628.11H42.60V627.93H43.30V628.13H44.00V630.97H44.70V631.04H45.40V630.86H46.10V631.26H46.80V630.94H47.50V630.94H48.20V631.48H48.90V630.97H49.60V631.48H50.30V631.17H51.00V631.29H51.70V631.18H52.40V632.33H53.10V632.48H53.80V632.35H54.50V631.09H55.20V630.40H55.90V629.83H56.60V629.57H57.30V628.73H58.00V628.60H58.70V628.93H59.40V628.84H60.10V627.18H60.80V626.14H61.50V626.04H62.20V625.02H62.90V624.75H63.60V625.29H64.30V624.82H65.00V622.83H65.70V622.60H66.40V622.03H67.10V621.61H67.80V620.42H68.50V620.90H69.20V619.60H69.90V621.47H70.60V620.99H71.30V618.00H72.00V615.72H72.70V618.25H73.40V613.31H74.10V611.27H74.80V611.14H75.50V614.35H76.20V607.55H76.90V611.14H77.60V614.07H78.30V614.56H79.00V613.05H79.70V614.44H80.40V618.54H81.10V622.63H81.80V623.05H82.50V620.69H83.20V622.21H83.90V622.75H84.60V620.86H85.30V620.77H86.00V623.21H86.70V622.05H87.40V621.44H88.10V621.72H88.80V620.92H89.50V620.89H90.20V620.50H90.90V622.26H91.60V621.31H92.30V623.86H93.00V623.98H93.70V622.25H94.40V620.39H95.10V621.93H95.80V620.16H96.50V620.68H97.20V619.69H97.90V616.94H98.60V613.74H99.30V613.36H100.00V611.88H100.70V612.08H101.40V614.69H102.10V610.62H102.80V613.67H103.50V614.63H104.20V614.77H104.90V614.09H105.60V615.81H106.30V617.77H107.00V620.10H107.70V619.41H108.40V622.23H109.10V619.02H109.80V618.86H110.50V620.93H111.20V620.82H111.90V618.83H112.60V619.82H113.30V620.27H114.00V622.05H114.70V621.88H115.40V622.39H116.10V620.87H116.80V622.80H117.50V620.70H118.20V620.06H118.90V612.76H119.60V616.93H120.30V615.66H121.00V615.44H121.70V618.01H122.40V615.54H123.10V613.58H123.80V615.96H124.50V617.62H125.20V613.94H125.90V618.56H126.60V615.23H127.30V613.83H128.00V615.85H128.70V617.61H129.40V615.85H130.10V614.72H130.80V617.65H131.50V614.11H132.20V617.12H132.90V615.38H133.60V616.85H134.30V616.27H135.00V615.13H135.70V614.84H136.40V618.34H137.10V616.18H137.80V621.95H138.50V623.00H139.20V623.68H139.90V621.44H140.60V618.97H141.30V617.95H142.00V620.88H142.70V618.10H143.40V621.57H144.10V620.43H144.80V620.43H145.50V620.72H146.20V619.91H146.90V625.21H147.60V624.62H148.30V625.07H149.00V625.74H149.70V625.83H150.40V625.15H151.10V625.93H151.80V626.45H152.50V626.47H153.20V624.80H153.90V625.81H154.60V625.14H155.30V626.76H156.00V626.16H156.70V625.86H157.40V626.32H158.10V626.12H158.80V625.51H159.50V627.27H160.20V625.38H160.90V625.40H161.60V625.87H162.30V625.65H163.00V626.13H163.70V626.73H164.40V626.26H165.10V627.73H165.80V626.23H166.50V627.72H167.20V627.87H167.90V626.83H168.60V627.49H169.30V626.06H170.00V627.90H170.70V626.78H171.40V626.63H172.10V627.98H172.80V626.84H173.50V626.37H174.20V633.30ZM174.90 633.30V632.30H175.60V632.51H176.30V632.33H177.00V628.23H177.70V627.37H178.40V628.59H179.10V628.91H179.80V627.76H180.50V628.55H181.20V628.76H181.90V627.55H182.60V627.94H183.30V628.98H184.00V628.88H184.70V628.10H185.40V628.07H186.10V627.31H186.80V628.62H187.50V628.86H188.20V628.10H188.90V627.55H189.60V627.41H190.30V628.23H191.00V628.35H191.70V628.16H192.40V631.75H193.10V631.31H193.80V631.30H194.50V631.33H195.20V627.24H195.90V626.94H196.60V627.24H197.30V627.24H198.00V628.41H198.70V627.88H199.40V627.40H200.10V627.95H200.80V632.81H201.50V632.94H202.20V632.81H202.90V632.82H203.60V632.87H204.30V632.92H205.00V632.88H205.70V632.81H206.40V628.61H207.10V628.84H207.80V629.21H208.50V628.66H209.20V633.30Z" fill="#fc8f8f"/>
<path d="M33.50 663.90V663.51H34.20V663.41H34.90V663.52H35.60V663.42H36.30V663.45H37.00V663.51H37.70V653.17H38.40V652.92H39.10V651.19H39.80V653.39H40.50V652.91H41.20V648.96H41.90V648.07H42.60V648.63H43.30V648.15H44.00V647.77H44.70V646.89H45.40V649.38H46.10V649.16H46.80V655.94H47.50V657.65H48.20V660.01H48.90V662.14H49.60V662.17H50.30V662.36H51.00V659.17H51.70V659.21H52.40V659.36H53.10V660.06H53.80V659.17H54.50V659.15H55.20V655.89H55.90V656.82H56.60V656.26H57.30V659.21H58.00V660.05H58.70V660.02H59.40V660.21H60.10V659.89H60.80V663.90ZM69.20 663.90V659.03H69.90V657.47H70.60V656.49H71.30V656.59H72.00V655.76H72.70V654.13H73.40V651.17H74.10V650.60H74.80V651.57H75.50V650.31H76.20V651.66H76.90V653.85H77.60V653.84H78.30V655.32H79.00V656.23H79.70V658.29H80.40V663.90ZM83.20 663.90V659.22H83.90V657.57H84.60V656.33H85.30V656.39H86.00V654.14H86.70V654.46H87.40V652.08H88.10V651.95H88.80V650.21H89.50V650.41H90.20V650.58H90.90V651.91H91.60V653.26H92.30V652.53H93.00V655.38H93.70V655.80H94.40V656.15H95.10V654.43H95.80V654.15H96.50V652.37H97.20V653.06H97.90V651.03H98.60V649.63H99.30V652.45H100.00V656.44H100.70V655.44H101.40V656.40H102.10V656.90H102.80V658.45H103.50V658.32H104.20V659.90H104.90V659.76H105.60V660.78H106.30V663.90ZM109.80 663.90V660.63H110.50V660.29H111.20V659.98H111.90V659.91H112.60V660.51H113.30V659.93H114.00V660.09H114.70V660.42H115.40V660.12H116.10V659.91H116.80V660.64H117.50V660.56H118.20V660.43H118.90V659.95H119.60V660.29H120.30V656.63H121.00V653.84H121.70V651.53H122.40V652.65H123.10V648.63H123.80V649.72H124.50V648.90H125.20V652.12H125.90V651.77H126.60V651.63H127.30V651.97H128.00V656.81H128.70V657.86H129.40V658.76H130.10V659.08H130.80V663.90ZM132.90 663.90V657.07H133.60V655.17H134.30V650.96H135.00V648.80H135.70V651.40H136.40V651.58H137.10V652.74H137.80V655.78H138.50V657.95H139.20V658.18H139.90V660.09H140.60V660.63H141.30V660.63H142.00V660.67H142.70V661.02H143.40V660.96H144.10V660.99H144.80V660.77H145.50V660.85H146.20V660.84H146.90V660.83H147.60V663.05H148.30V663.07H149.00V662.91H149.70V662.92H150.40V663.04H151.10V658.82H151.80V657.07H152.50V656.48H153.20V654.02H153.90V654.19H154.60V651.34H155.30V654.66H156.00V653.82H156.70V656.70H157.40V656.14H158.10V658.15H158.80V658.20H159.50V659.78H160.20V660.44H160.90V660.96H161.60V660.80H162.30V660.65H163.00V660.25H163.70V656.30H164.40V654.68H165.10V653.38H165.80V654.03H166.50V652.56H167.20V653.49H167.90V651.95H168.60V647.96H169.30V650.78H170.00V654.57H170.70V655.27H171.40V652.13H172.10V651.72H172.80V651.73H173.50V649.15H174.20V648.79H174.90V651.09H175.60V652.09H176.30V653.66H177.00V654.49H177.70V656.48H178.40V655.87H179.10V656.87H179.80V657.95H180.50V658.69H181.20V663.55H181.90V663.55H182.60V663.55H183.30V663.55H184.00V663.55H184.70V663.55H185.40V663.55H186.10V663.55H186.80V663.55H187.50V663.55H188.20V663.55H188.90V663.55H189.60V663.55H190.30V663.55H191.00V663.55H191.70V663.55H192.40V663.55H193.10V659.04H193.80V658.94H194.50V658.92H195.20V658.12H195.90V659.54H196.60V658.81H197.30V660.38H198.00V660.42H198.70V660.85H199.40V661.04H200.10V660.21H200.80V660.33H201.50V660.22H202.20V660.72H202.90V659.50H203.60V658.71H204.30V657.17H205.00V656.67H205.70V656.96H206.40V654.73H207.10V653.56H207.80V652.68H208.50V653.70H209.20V663.90Z" fill="#33c6f6"/>
<line x1="33.5" y1="664.2" x2="209.8" y2="664.2" stroke="#c9eefb" stroke-width="0.5"/>
<line x1="98.2" y1="670.6" x2="209.8" y2="670.6" stroke="#999" stroke-width="0.6"/>
<path d="M98.2 669.8v1.6M102.7 669.8v1.6M107.2 669.8v1.6M111.7 669.8v1.6M116.2 669.8v1.6M120.7 669.8v1.6M125.2 669.8v1.6M129.7 669.8v1.6M134.2 669.8v1.6M138.7 669.8v1.6M143.2 669.8v1.6M147.7 669.8v1.6M152.2 669.8v1.6M156.7 669.8v1.6M161.2 669.8v1.6M165.7 669.8v1.6M170.2 669.8v1.6M174.7 669.8v1.6M179.2 669.8v1.6M183.7 669.8v1.6M188.2 669.8v1.6M192.7 669.8v1.6M197.2 669.8v1.6M201.7 669.8v1.6M206.2 669.8v1.6" stroke="#aaa" stroke-width="0.4"/>
<line x1="33.5" y1="670.6" x2="84.1" y2="670.6" stroke="#555" stroke-width="1.0"/>
<rect x="84.1" y="669.6" width="14.1" height="2.0" fill="#555"/>
<text x="126.9" y="680.4" font-size="6.9" font-weight="bold" font-style="italic" fill="#000">TGFB2</text>
<rect x="320.2" y="602.0" width="31.4" height="63.7" fill="#d9d9d9"/>
<text x="260.1" y="608.3" font-size="6.9" font-weight="bold" fill="#000">[0-13]</text>
<text x="296.0" y="610.9" font-size="6.9" font-weight="bold" fill="#000">Promoter</text>
<line x1="404.3" y1="606.5" x2="435.8" y2="606.5" stroke="#222" stroke-width="1.3"/>
<text x="410.4" y="603.9" font-size="6.9" font-weight="bold" fill="#000">0.5 kb</text>
<text x="384.7" y="622.2" font-size="6.9" font-weight="bold" fill="#f89090">HA-TP</text>
<text x="385.9" y="654.9" font-size="6.9" font-weight="bold" fill="#5ccaf3">HA-CA</text>
<path d="M261.20 635.60V624.60H261.90V626.42H262.60V626.08H263.30V630.66H264.00V630.61H264.70V631.21H265.40V630.33H266.10V630.59H266.80V632.62H267.50V632.69H268.20V632.61H268.90V633.06H269.60V632.80H270.30V632.10H271.00V631.46H271.70V630.25H272.40V629.36H273.10V628.96H273.80V627.84H274.50V628.34H275.20V623.44H275.90V622.53H276.60V624.45H277.30V621.86H278.00V623.44H278.70V622.98H279.40V620.66H280.10V621.04H280.80V620.45H281.50V620.47H282.20V622.24H282.90V620.96H283.60V619.81H284.30V618.68H285.00V626.80H285.70V626.90H286.40V626.27H287.10V626.59H287.80V626.68H288.50V626.95H289.20V632.72H289.90V632.78H290.60V633.05H291.30V632.56H292.00V632.44H292.70V632.57H293.40V632.51H294.10V632.79H294.80V632.70H295.50V632.58H296.20V635.60ZM297.60 635.60V634.51H298.30V634.69H299.00V634.65H299.70V634.65H300.40V634.67H301.10V634.72H301.80V634.50H302.50V632.20H303.20V632.43H303.90V632.65H304.60V632.46H305.30V632.46H306.00V632.29H306.70V632.24H307.40V635.60ZM308.10 635.60V633.62H308.80V633.71H309.50V633.35H310.20V633.33H310.90V633.14H311.60V633.42H312.30V633.18H313.00V633.44H313.70V633.22H314.40V632.81H315.10V632.87H315.80V631.99H316.50V631.88H317.20V631.30H317.90V631.15H318.60V631.40H319.30V630.49H320.00V631.00H320.70V629.69H321.40V626.14H322.10V624.98H322.80V622.72H323.50V621.71H324.20V618.22H324.90V615.35H325.60V615.17H326.30V611.55H327.00V610.48H327.70V612.98H328.40V614.45H329.10V616.85H329.80V615.96H330.50V615.99H331.20V617.41H331.90V618.76H332.60V618.65H333.30V618.76H334.00V621.13H334.70V622.23H335.40V621.68H336.10V624.02H336.80V623.88H337.50V623.89H338.20V620.85H338.90V618.15H339.60V619.89H340.30V621.05H341.00V623.35H341.70V622.78H342.40V626.27H343.10V624.07H343.80V625.41H344.50V625.92H345.20V627.15H345.90V626.33H346.60V626.64H347.30V628.40H348.00V628.92H348.70V628.86H349.40V630.00H350.10V628.89H350.80V630.07H351.50V632.09H352.20V631.77H352.90V632.46H353.60V631.73H354.30V631.73H355.00V632.56H355.70V632.05H356.40V631.78H357.10V632.54H357.80V630.19H358.50V629.97H359.20V628.80H359.90V628.33H360.60V628.34H361.30V628.31H362.00V626.49H362.70V628.68H363.40V629.06H364.10V629.78H364.80V630.99H365.50V630.83H366.20V631.11H366.90V631.91H367.60V634.03H368.30V633.86H369.00V634.12H369.70V634.46H370.40V634.68H371.10V634.86H371.80V635.01H372.50V635.60ZM374.60 635.60V630.61H375.30V631.46H376.00V630.31H376.70V630.53H377.40V631.60H378.10V630.45H378.80V631.36H379.50V630.98H380.20V631.03H380.90V631.03H381.60V635.25H382.30V635.25H383.00V635.25H383.70V635.25H384.40V635.25H385.10V635.25H385.80V635.25H386.50V635.25H387.20V635.25H387.90V635.25H388.60V635.25H389.30V635.25H390.00V635.25H390.70V635.25H391.40V631.24H392.10V631.05H392.80V631.62H393.50V631.24H394.20V630.72H394.90V631.69H395.60V631.08H396.30V631.46H397.00V631.28H397.70V630.71H398.40V630.55H399.10V630.79H399.80V631.37H400.50V631.07H401.20V631.28H401.90V630.57H402.60V630.46H403.30V630.04H404.00V630.34H404.70V630.29H405.40V630.58H406.10V630.66H406.80V630.73H407.50V629.56H408.20V630.12H408.90V629.19H409.60V629.38H410.30V629.86H411.00V628.93H411.70V629.76H412.40V628.56H413.10V627.43H413.80V627.27H414.50V627.62H415.20V625.50H415.90V627.21H416.60V625.89H417.30V624.98H418.00V624.15H418.70V625.76H419.40V625.01H420.10V625.12H420.80V627.51H421.50V626.49H422.20V627.94H422.90V627.56H423.60V628.11H424.30V628.10H425.00V629.41H425.70V629.65H426.40V629.25H427.10V629.92H427.80V629.86H428.50V631.47H429.20V630.78H429.90V630.98H430.60V630.94H431.30V630.36H432.00V630.62H432.70V631.26H433.40V630.97H434.10V635.60Z" fill="#fc8f8f"/>
<path d="M261.20 665.70V658.14H261.90V658.68H262.60V659.22H263.30V658.38H264.00V658.62H264.70V658.42H265.40V658.87H266.10V664.43H266.80V664.41H267.50V664.50H268.20V665.70ZM270.30 665.70V662.83H271.00V662.30H271.70V661.97H272.40V661.80H273.10V661.52H273.80V660.84H274.50V660.98H275.20V660.32H275.90V660.31H276.60V659.34H277.30V659.17H278.00V658.59H278.70V658.58H279.40V653.52H280.10V653.67H280.80V653.46H281.50V654.72H282.20V654.24H282.90V653.68H283.60V653.96H284.30V653.41H285.00V664.24H285.70V664.22H286.40V664.12H287.10V664.02H287.80V664.24H288.50V664.03H289.20V664.01H289.90V664.08H290.60V661.96H291.30V662.27H292.00V661.85H292.70V664.01H293.40V664.09H294.10V664.00H294.80V664.15H295.50V664.10H296.20V664.21H296.90V664.23H297.60V664.04H298.30V664.19H299.00V664.10H299.70V664.24H300.40V665.70ZM301.10 665.70V655.06H301.80V654.85H302.50V655.24H303.20V652.73H303.90V652.36H304.60V651.62H305.30V653.61H306.00V655.35H306.70V654.18H307.40V655.73H308.10V655.15H308.80V656.61H309.50V662.24H310.20V662.23H310.90V662.72H311.60V662.20H312.30V662.50H313.00V662.27H313.70V662.46H314.40V662.32H315.10V662.48H315.80V662.52H316.50V662.56H317.20V662.23H317.90V665.70ZM319.30 665.70V658.53H320.00V657.13H320.70V656.99H321.40V656.77H322.10V656.13H322.80V655.08H323.50V654.41H324.20V653.20H324.90V654.08H325.60V652.80H326.30V651.63H327.00V652.99H327.70V654.89H328.40V655.19H329.10V656.50H329.80V657.15H330.50V655.73H331.20V657.06H331.90V657.10H332.60V656.81H333.30V657.64H334.00V657.88H334.70V658.98H335.40V659.00H336.10V658.39H336.80V658.15H337.50V658.23H338.20V658.64H338.90V658.41H339.60V658.11H340.30V658.88H341.00V658.71H341.70V658.37H342.40V662.21H343.10V662.34H343.80V662.46H344.50V662.21H345.20V662.23H345.90V662.21H346.60V662.21H347.30V662.48H348.00V662.54H348.70V662.49H349.40V662.32H350.10V665.70ZM352.90 665.70V658.40H353.60V658.10H354.30V658.96H355.00V658.60H355.70V658.23H356.40V658.17H357.10V658.32H357.80V658.43H358.50V658.82H359.20V658.14H359.90V665.70ZM394.20 665.70V662.58H394.90V662.28H395.60V662.25H396.30V662.48H397.00V662.24H397.70V662.72H398.40V662.52H399.10V662.55H399.80V662.44H400.50V662.64H401.20V662.63H401.90V665.70ZM408.90 665.70V662.44H409.60V662.24H410.30V662.51H411.00V662.72H411.70V662.28H412.40V662.53H413.10V662.23H413.80V662.61H414.50V658.61H415.20V658.64H415.90V658.67H416.60V658.60H417.30V658.77H418.00V658.71H418.70V658.33H419.40V659.05H420.10V658.18H420.80V658.88H421.50V658.47H422.20V663.91H422.90V663.95H423.60V664.01H424.30V663.92H425.00V664.05H425.70V664.15H426.40V664.08H427.10V664.02H427.80V664.04H428.50V664.01H429.20V664.09H429.90V664.07H430.60V660.26H431.30V660.50H432.00V660.39H432.70V659.93H433.40V659.97H434.10V665.70Z" fill="#33c6f6"/>
<path d="M417 665.7V653.2h0.6V665.7Z" fill="#33c6f6"/>
<line x1="261.2" y1="666.0" x2="433.8" y2="666.0" stroke="#c9eefb" stroke-width="0.5"/>
<line x1="383.0" y1="672.0" x2="433.8" y2="672.0" stroke="#999" stroke-width="0.6"/>
<path d="M383.0 671.2v1.6M387.5 671.2v1.6M392.0 671.2v1.6M396.5 671.2v1.6M401.0 671.2v1.6M405.5 671.2v1.6M410.0 671.2v1.6M414.5 671.2v1.6M419.0 671.2v1.6M423.5 671.2v1.6M428.0 671.2v1.6M432.5 671.2v1.6" stroke="#aaa" stroke-width="0.4"/>
<rect x="386.6" y="671.1" width="8.3" height="1.8" fill="#555"/>
<line x1="383.0" y1="672.0" x2="386.6" y2="672.0" stroke="#555" stroke-width="0.9"/>
<text x="364.5" y="680.1" font-size="6.9" font-weight="bold" font-style="italic" fill="#000">TGFBI</text>
<rect x="561.1" y="599.3" width="48.9" height="63.7" fill="#d9d9d9"/>
<text x="481.5" y="603.0" font-size="6.9" font-weight="bold" fill="#000">[0-14]</text>
<text x="538.1" y="606.9" font-size="6.9" font-weight="bold" fill="#000">Promoter</text>
<line x1="622.5" y1="597.8" x2="658.7" y2="597.8" stroke="#222" stroke-width="1.3"/>
<text x="631.0" y="594.8" font-size="6.9" font-weight="bold" fill="#000">0.5 kb</text>
<text x="630.7" y="617.3" font-size="6.9" font-weight="bold" fill="#f89090">HA-TP</text>
<text x="631.6" y="649.7" font-size="6.9" font-weight="bold" fill="#5ccaf3">HA-CA</text>
<path d="M485.50 632.70V631.98H486.20V631.97H486.90V631.99H487.60V631.96H488.30V632.06H489.00V631.92H489.70V631.97H490.40V632.04H491.10V632.00H491.80V632.08H492.50V631.94H493.20V631.95H493.90V631.94H494.60V631.91H495.30V631.91H496.00V631.98H496.70V632.70ZM504.40 632.70V629.86H505.10V630.07H505.80V630.41H506.50V630.44H507.20V630.24H507.90V629.88H508.60V629.92H509.30V630.35H510.00V629.81H510.70V630.28H511.40V629.82H512.10V629.96H512.80V630.05H513.50V630.41H514.20V630.20H514.90V630.30H515.60V629.89H516.30V628.58H517.00V629.22H517.70V628.85H518.40V629.02H519.10V628.35H519.80V628.33H520.50V628.66H521.20V627.21H521.90V627.16H522.60V628.01H523.30V628.20H524.00V627.11H524.70V626.97H525.40V627.07H526.10V627.06H526.80V627.85H527.50V631.77H528.20V631.94H528.90V631.70H529.60V631.81H530.30V631.72H531.00V631.90H531.70V629.88H532.40V629.14H533.10V628.87H533.80V628.71H534.50V626.99H535.20V626.55H535.90V627.19H536.60V625.61H537.30V624.41H538.00V623.39H538.70V622.63H539.40V619.68H540.10V617.90H540.80V616.41H541.50V618.27H542.20V619.43H542.90V620.18H543.60V620.91H544.30V620.68H545.00V621.32H545.70V622.30H546.40V623.15H547.10V622.20H547.80V622.45H548.50V622.19H549.20V623.67H549.90V624.23H550.60V620.09H551.30V622.10H552.00V620.93H552.70V618.66H553.40V617.49H554.10V618.69H554.80V617.44H555.50V617.09H556.20V617.04H556.90V616.16H557.60V613.39H558.30V615.55H559.00V614.83H559.70V615.42H560.40V619.11H561.10V616.86H561.80V618.93H562.50V617.61H563.20V617.60H563.90V619.71H564.60V618.06H565.30V621.31H566.00V624.49H566.70V623.12H567.40V623.55H568.10V625.16H568.80V624.31H569.50V626.09H570.20V625.10H570.90V626.10H571.60V626.16H572.30V624.91H573.00V625.37H573.70V626.39H574.40V625.58H575.10V625.46H575.80V624.86H576.50V624.98H577.20V626.64H577.90V626.75H578.60V625.64H579.30V625.96H580.00V623.30H580.70V624.87H581.40V623.35H582.10V623.14H582.80V623.09H583.50V620.49H584.20V621.45H584.90V620.05H585.60V612.49H586.30V610.48H587.00V612.36H587.70V607.70H588.40V606.16H589.10V609.26H589.80V610.69H590.50V611.89H591.20V611.91H591.90V617.29H592.60V613.82H593.30V619.69H594.00V619.79H594.70V618.83H595.40V618.59H596.10V621.07H596.80V620.96H597.50V619.45H598.20V622.09H598.90V621.44H599.60V620.30H600.30V623.25H601.00V621.51H601.70V621.30H602.40V624.09H603.10V625.40H603.80V625.46H604.50V626.41H605.20V627.09H605.90V627.86H606.60V628.21H607.30V630.64H608.00V630.46H608.70V630.36H609.40V630.46H610.10V630.48H610.80V630.31H611.50V626.97H612.20V626.95H612.90V626.70H613.60V627.02H614.30V626.49H615.00V627.03H615.70V626.74H616.40V626.61H617.10V627.16H617.80V627.08H618.50V626.22H619.20V626.17H619.90V626.97H620.60V626.41H621.30V626.05H622.00V626.16H622.70V626.10H623.40V626.00H624.10V631.30H624.80V631.39H625.50V631.59H626.20V631.30H626.90V632.70ZM633.20 632.70V629.39H633.90V628.95H634.60V628.86H635.30V628.14H636.00V628.21H636.70V627.81H637.40V627.25H638.10V626.48H638.80V626.83H639.50V626.75H640.20V623.54H640.90V623.67H641.60V624.66H642.30V623.62H643.00V622.53H643.70V623.13H644.40V621.40H645.10V624.95H645.80V623.48H646.50V623.93H647.20V625.78H647.90V625.31H648.60V626.45H649.30V627.09H650.00V627.83H650.70V627.85H651.40V627.54H652.10V628.05H652.80V627.94H653.50V628.90H654.20V629.33H654.90V628.47H655.60V629.13H656.30V632.70Z" fill="#fc8f8f"/>
<path d="M495.30 663.00V661.54H496.00V661.69H496.70V661.84H497.40V661.77H498.10V661.90H498.80V661.72H499.50V661.60H500.20V661.53H500.90V661.60H501.60V661.68H502.30V660.42H503.00V661.60H503.70V661.71H504.40V661.66H505.10V661.76H505.80V660.50H506.50V663.00ZM519.80 663.00V660.86H520.50V660.19H521.20V657.50H521.90V657.55H522.60V659.04H523.30V657.51H524.00V658.39H524.70V657.85H525.40V658.74H526.10V658.48H526.80V661.22H527.50V661.03H528.20V661.16H528.90V663.00ZM540.10 663.00V659.02H540.80V657.24H541.50V656.12H542.20V655.97H542.90V654.42H543.60V655.30H544.30V653.12H545.00V651.14H545.70V652.06H546.40V653.24H547.10V651.41H547.80V652.19H548.50V652.22H549.20V651.28H549.90V653.88H550.60V654.09H551.30V651.69H552.00V651.34H552.70V651.62H553.40V653.33H554.10V651.50H554.80V653.43H555.50V654.19H556.20V651.16H556.90V653.24H557.60V653.26H558.30V652.94H559.00V653.07H559.70V652.67H560.40V655.17H561.10V655.40H561.80V653.82H562.50V653.82H563.20V655.69H563.90V654.21H564.60V659.31H565.30V659.64H566.00V659.96H566.70V659.24H567.40V660.19H568.10V659.40H568.80V659.81H569.50V659.65H570.20V659.56H570.90V660.40H571.60V659.58H572.30V660.40H573.00V660.41H573.70V660.32H574.40V655.01H575.10V654.08H575.80V656.50H576.50V655.11H577.20V654.80H577.90V656.13H578.60V659.30H579.30V658.65H580.00V658.39H580.70V658.20H581.40V654.33H582.10V654.48H582.80V656.01H583.50V653.74H584.20V653.82H584.90V653.01H585.60V653.24H586.30V654.02H587.00V651.83H587.70V654.76H588.40V653.73H589.10V648.90H589.80V651.78H590.50V651.33H591.20V651.34H591.90V657.10H592.60V654.74H593.30V654.72H594.00V655.30H594.70V655.86H595.40V655.06H596.10V663.00ZM613.60 663.00V659.64H614.30V660.16H615.00V660.34H615.70V659.50H616.40V660.55H617.10V659.94H617.80V660.43H618.50V660.01H619.20V655.31H619.90V660.32H620.60V660.38H621.30V659.73H622.00V659.84H622.70V660.08H623.40V660.17H624.10V659.71H624.80V663.00ZM636.00 663.00V659.61H636.70V660.32H637.40V659.66H638.10V660.10H638.80V660.48H639.50V659.95H640.20V659.95H640.90V660.07H641.60V659.71H642.30V658.46H643.00V657.72H643.70V659.11H644.40V652.46H645.10V658.21H645.80V657.86H646.50V659.16H647.20V658.48H647.90V661.84H648.60V661.84H649.30V661.60H650.00V661.61H650.70V661.83H651.40V661.66H652.10V661.94H652.80V661.94H653.50V658.52H654.20V659.54H654.90V658.16H655.60V658.73H656.30V663.00Z" fill="#33c6f6"/>
<line x1="485.5" y1="663.3" x2="656.0" y2="663.3" stroke="#c9eefb" stroke-width="0.5"/>
<line x1="548.0" y1="669.2" x2="656.0" y2="669.2" stroke="#999" stroke-width="0.6"/>
<path d="M548.0 668.4v1.6M552.5 668.4v1.6M557.0 668.4v1.6M561.5 668.4v1.6M566.0 668.4v1.6M570.5 668.4v1.6M575.0 668.4v1.6M579.5 668.4v1.6M584.0 668.4v1.6M588.5 668.4v1.6M593.0 668.4v1.6M597.5 668.4v1.6M602.0 668.4v1.6M606.5 668.4v1.6M611.0 668.4v1.6M615.5 668.4v1.6M620.0 668.4v1.6M624.5 668.4v1.6M629.0 668.4v1.6M633.5 668.4v1.6M638.0 668.4v1.6M642.5 668.4v1.6M647.0 668.4v1.6M651.5 668.4v1.6M656.0 668.4v1.6" stroke="#aaa" stroke-width="0.4"/>
<rect x="485.5" y="668.3" width="41.0" height="1.8" fill="#555"/>
<line x1="526.5" y1="669.2" x2="548.0" y2="669.2" stroke="#555" stroke-width="0.9"/>
<text x="558.5" y="678.4" font-size="6.9" font-weight="bold" font-style="italic" fill="#000">GDF5</text>
</svg>
</body></html>
